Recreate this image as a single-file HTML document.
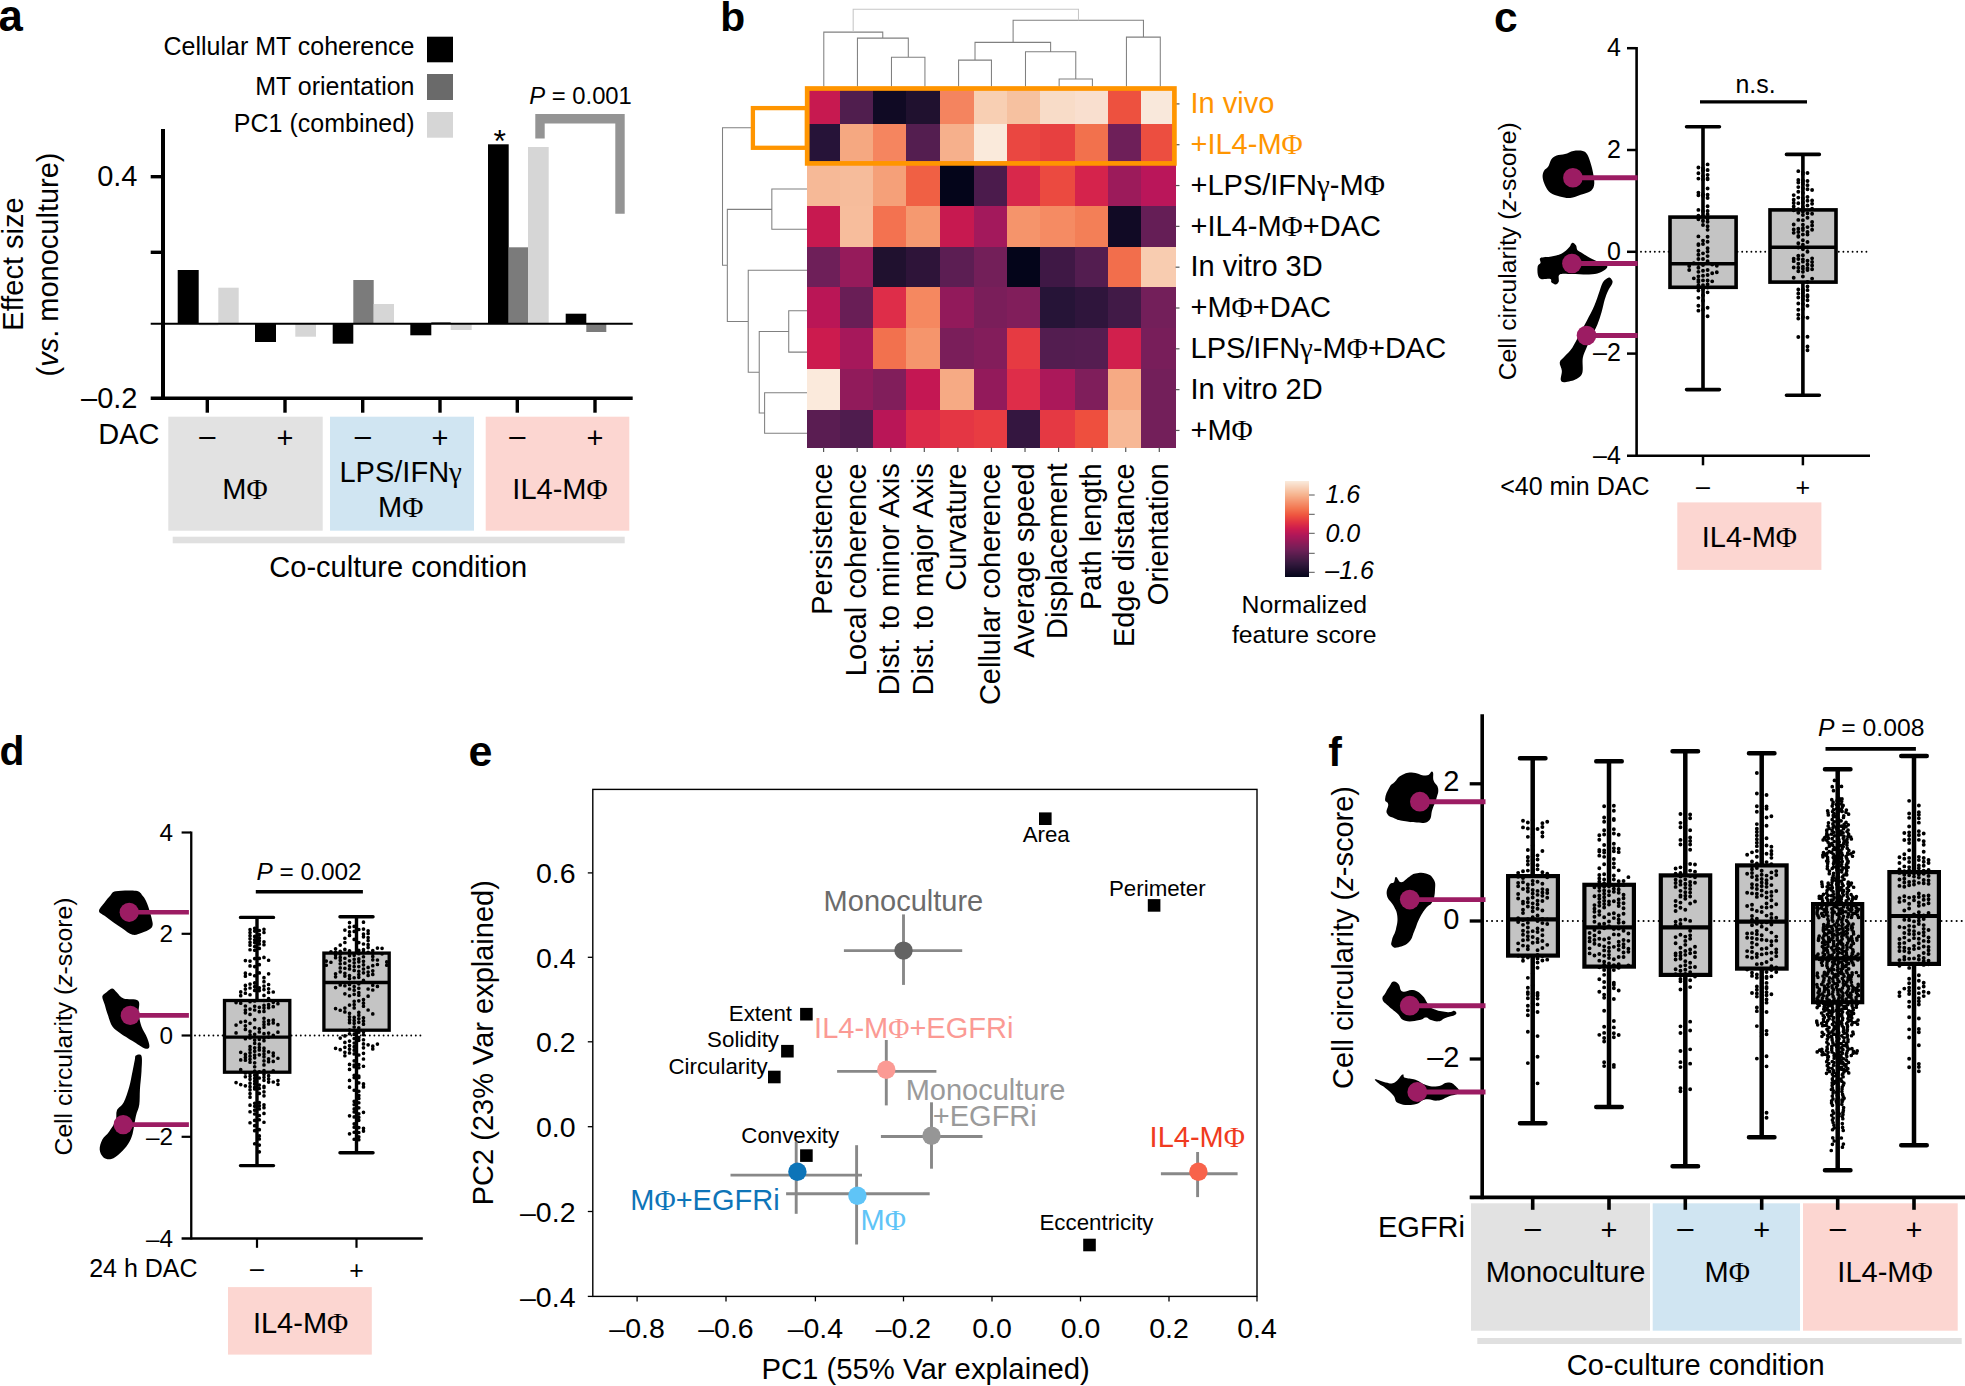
<!DOCTYPE html>
<html lang="en"><head><meta charset="utf-8"><title>Figure</title>
<style>html,body{margin:0;padding:0;background:#fff;overflow:hidden}svg{display:block}text{font-family:'Liberation Sans', sans-serif}.sy{font-family:'Liberation Serif', serif}</style></head><body>
<svg width="1965" height="1386" viewBox="0 0 1965 1386">
<rect width="1965" height="1386" fill="#fff"/>
<g font-weight="bold">
<text x="-1.5" y="31" font-size="43.7">a</text>
<text x="720.2" y="31" font-size="40.8">b</text>
<text x="1494" y="31.9" font-size="42.5">c</text>
<text x="-0.5" y="765" font-size="40.8">d</text>
<text x="468.5" y="766" font-size="43">e</text>
<text x="1328.2" y="765.6" font-size="40.8">f</text>
</g>
<g id="pa">
<text x="414.5" y="55" font-size="25" text-anchor="end">Cellular MT coherence</text>
<text x="414.5" y="95" font-size="25" text-anchor="end">MT orientation</text>
<text x="414.5" y="131.5" font-size="25" text-anchor="end">PC1 (combined)</text>
<rect x="427" y="36.7" width="26" height="25.6" fill="#000"/>
<rect x="427" y="74" width="26" height="26" fill="#6a6a6a"/>
<rect x="427" y="112" width="26" height="25.7" fill="#d6d6d6"/>
<rect x="177.7" y="270" width="21" height="53.7" fill="#000"/>
<rect x="218.3" y="287.7" width="20.4" height="36" fill="#d6d6d6"/>
<rect x="199" y="323.7" width="19.3" height="1.9" fill="#ececec"/>
<rect x="255" y="323.7" width="21" height="18.3" fill="#000"/>
<rect x="295.3" y="323.7" width="20.7" height="13" fill="#d6d6d6"/>
<rect x="332.7" y="323.7" width="20.6" height="20" fill="#000"/>
<rect x="353.3" y="280" width="20.4" height="43.7" fill="#7b7b7b"/>
<rect x="373.7" y="304" width="20.3" height="19.7" fill="#d6d6d6"/>
<rect x="410.3" y="323.7" width="21" height="11.6" fill="#000"/>
<rect x="431.3" y="322" width="19.4" height="1.7" fill="#7b7b7b"/>
<rect x="450.7" y="323.7" width="21" height="6.3" fill="#d6d6d6"/>
<rect x="488" y="144.3" width="20.7" height="179.4" fill="#000"/>
<rect x="508.7" y="247.3" width="19.3" height="76.4" fill="#7b7b7b"/>
<rect x="528" y="147" width="20.7" height="176.7" fill="#d6d6d6"/>
<rect x="565.7" y="313.7" width="20.6" height="10" fill="#000"/>
<rect x="586.3" y="323.7" width="20" height="8.3" fill="#7b7b7b"/>
<line x1="150.7" y1="323.7" x2="632.7" y2="323.7" stroke="#000" stroke-width="2"/>
<line x1="163" y1="129" x2="163" y2="400" stroke="#000" stroke-width="4"/>
<line x1="150.7" y1="398.3" x2="632.7" y2="398.3" stroke="#000" stroke-width="3.6"/>
<line x1="150.7" y1="176.7" x2="163" y2="176.7" stroke="#000" stroke-width="3.4"/>
<line x1="150.7" y1="252.3" x2="163" y2="252.3" stroke="#000" stroke-width="3.4"/>
<line x1="207.3" y1="398.3" x2="207.3" y2="412.7" stroke="#000" stroke-width="3.4"/>
<line x1="285" y1="398.3" x2="285" y2="412.7" stroke="#000" stroke-width="3.4"/>
<line x1="362.7" y1="398.3" x2="362.7" y2="412.7" stroke="#000" stroke-width="3.4"/>
<line x1="440" y1="398.3" x2="440" y2="412.7" stroke="#000" stroke-width="3.4"/>
<line x1="517.3" y1="398.3" x2="517.3" y2="412.7" stroke="#000" stroke-width="3.4"/>
<line x1="595" y1="398.3" x2="595" y2="412.7" stroke="#000" stroke-width="3.4"/>
<text x="137.5" y="185.5" font-size="29" text-anchor="end">0.4</text>
<text x="137.5" y="407.5" font-size="29" text-anchor="end">–0.2</text>
<text font-size="29" text-anchor="middle" transform="translate(22.5 264) rotate(-90)">Effect size</text>
<text font-size="29" text-anchor="middle" transform="translate(58 264.5) rotate(-90)">(<tspan font-style="italic">vs</tspan>. monoculture)</text>
<text x="499.8" y="152" font-size="32" text-anchor="middle">*</text>
<text x="529.3" y="104" font-size="23.8"><tspan font-style="italic">P</tspan> = 0.001</text>
<path d="M540 138.6V118.7H620V213.8" fill="none" stroke="#949494" stroke-width="9.4"/>
<rect x="168.3" y="416.7" width="154.4" height="114" fill="#e2e2e2"/>
<rect x="330" y="416.7" width="144" height="114" fill="#d0e5f2"/>
<rect x="485.7" y="416.7" width="143.6" height="114" fill="#fcd6d1"/>
<rect x="172.7" y="536.7" width="452" height="6.6" fill="#e0e0e0"/>
<text x="159.5" y="444.3" font-size="29" text-anchor="end">DAC</text>
<text x="207.3" y="445.5" font-size="29" text-anchor="middle">–</text>
<text x="285" y="447.5" font-size="29" text-anchor="middle">+</text>
<text x="362.7" y="445.5" font-size="29" text-anchor="middle">–</text>
<text x="440" y="447.5" font-size="29" text-anchor="middle">+</text>
<text x="517.3" y="445.5" font-size="29" text-anchor="middle">–</text>
<text x="595" y="447.5" font-size="29" text-anchor="middle">+</text>
<text x="245" y="499.3" font-size="29" text-anchor="middle">M<tspan class="sy">Φ</tspan></text>
<text x="400.7" y="481.7" font-size="29" text-anchor="middle">LPS/IFN<tspan class="sy">γ</tspan></text>
<text x="400.7" y="516.7" font-size="29" text-anchor="middle">M<tspan class="sy">Φ</tspan></text>
<text x="560" y="499.3" font-size="29" text-anchor="middle">IL4-M<tspan class="sy">Φ</tspan></text>
<text x="398.3" y="577.3" font-size="29" text-anchor="middle">Co-culture condition</text>
</g>
<g id="pb">
<g shape-rendering="crispEdges">
<rect x="807" y="86.5" width="32.9" height="37.6" fill="#c71950"/>
<rect x="839.6" y="86.5" width="33.8" height="37.6" fill="#501e4e"/>
<rect x="873.1" y="86.5" width="33.4" height="37.6" fill="#100a24"/>
<rect x="906.2" y="86.5" width="34.5" height="37.6" fill="#20112f"/>
<rect x="940.4" y="86.5" width="33.9" height="37.6" fill="#f4845f"/>
<rect x="974" y="86.5" width="33.4" height="37.6" fill="#f8cfb3"/>
<rect x="1007.1" y="86.5" width="33.4" height="37.6" fill="#f6c1a0"/>
<rect x="1040.2" y="86.5" width="34.7" height="37.6" fill="#f8dcc8"/>
<rect x="1074.6" y="86.5" width="33.6" height="37.6" fill="#f9dfcf"/>
<rect x="1107.9" y="86.5" width="33.7" height="37.6" fill="#ed513f"/>
<rect x="1141.3" y="86.5" width="34.6" height="37.6" fill="#f9e8db"/>
<rect x="807" y="123.8" width="32.9" height="41.7" fill="#261338"/>
<rect x="839.6" y="123.8" width="33.8" height="41.7" fill="#f5a881"/>
<rect x="873.1" y="123.8" width="33.4" height="41.7" fill="#f5855f"/>
<rect x="906.2" y="123.8" width="34.5" height="41.7" fill="#541e50"/>
<rect x="940.4" y="123.8" width="33.9" height="41.7" fill="#f6b08c"/>
<rect x="974" y="123.8" width="33.4" height="41.7" fill="#faeadb"/>
<rect x="1007.1" y="123.8" width="33.4" height="41.7" fill="#ea4741"/>
<rect x="1040.2" y="123.8" width="34.7" height="41.7" fill="#e74040"/>
<rect x="1074.6" y="123.8" width="33.6" height="41.7" fill="#f2714d"/>
<rect x="1107.9" y="123.8" width="33.7" height="41.7" fill="#6e1f59"/>
<rect x="1141.3" y="123.8" width="34.6" height="41.7" fill="#ec4e40"/>
<rect x="807" y="165.2" width="32.9" height="40.9" fill="#f6b997"/>
<rect x="839.6" y="165.2" width="33.8" height="40.9" fill="#f6bc9b"/>
<rect x="873.1" y="165.2" width="33.4" height="40.9" fill="#f5a079"/>
<rect x="906.2" y="165.2" width="34.5" height="40.9" fill="#f06044"/>
<rect x="940.4" y="165.2" width="33.9" height="40.9" fill="#04051a"/>
<rect x="974" y="165.2" width="33.4" height="40.9" fill="#4b1b4c"/>
<rect x="1007.1" y="165.2" width="33.4" height="40.9" fill="#d8284b"/>
<rect x="1040.2" y="165.2" width="34.7" height="40.9" fill="#eb4a40"/>
<rect x="1074.6" y="165.2" width="33.6" height="40.9" fill="#d5234c"/>
<rect x="1107.9" y="165.2" width="33.7" height="40.9" fill="#9c1b5b"/>
<rect x="1141.3" y="165.2" width="34.6" height="40.9" fill="#ba165a"/>
<rect x="807" y="205.8" width="32.9" height="41" fill="#c71950"/>
<rect x="839.6" y="205.8" width="33.8" height="41" fill="#f7bd9c"/>
<rect x="873.1" y="205.8" width="33.4" height="41" fill="#f37250"/>
<rect x="906.2" y="205.8" width="34.5" height="41" fill="#f59970"/>
<rect x="940.4" y="205.8" width="33.9" height="41" fill="#c71950"/>
<rect x="974" y="205.8" width="33.4" height="41" fill="#a3195c"/>
<rect x="1007.1" y="205.8" width="33.4" height="41" fill="#f5946b"/>
<rect x="1040.2" y="205.8" width="34.7" height="41" fill="#f58b63"/>
<rect x="1074.6" y="205.8" width="33.6" height="41" fill="#f37f57"/>
<rect x="1107.9" y="205.8" width="33.7" height="41" fill="#110a25"/>
<rect x="1141.3" y="205.8" width="34.6" height="41" fill="#651e56"/>
<rect x="807" y="246.5" width="32.9" height="41" fill="#6e1f59"/>
<rect x="839.6" y="246.5" width="33.8" height="41" fill="#961b5b"/>
<rect x="873.1" y="246.5" width="33.4" height="41" fill="#20112f"/>
<rect x="906.2" y="246.5" width="34.5" height="41" fill="#2e1439"/>
<rect x="940.4" y="246.5" width="33.9" height="41" fill="#5c1e53"/>
<rect x="974" y="246.5" width="33.4" height="41" fill="#731f59"/>
<rect x="1007.1" y="246.5" width="33.4" height="41" fill="#04051a"/>
<rect x="1040.2" y="246.5" width="34.7" height="41" fill="#3f1845"/>
<rect x="1074.6" y="246.5" width="33.6" height="41" fill="#531d50"/>
<rect x="1107.9" y="246.5" width="33.7" height="41" fill="#f26e4c"/>
<rect x="1141.3" y="246.5" width="34.6" height="41" fill="#f8ccb0"/>
<rect x="807" y="287.2" width="32.9" height="41.2" fill="#ba1656"/>
<rect x="839.6" y="287.2" width="33.8" height="41.2" fill="#691e56"/>
<rect x="873.1" y="287.2" width="33.4" height="41.2" fill="#de2d49"/>
<rect x="906.2" y="287.2" width="34.5" height="41.2" fill="#f58860"/>
<rect x="940.4" y="287.2" width="33.9" height="41.2" fill="#921a5b"/>
<rect x="974" y="287.2" width="33.4" height="41.2" fill="#7a1e5a"/>
<rect x="1007.1" y="287.2" width="33.4" height="41.2" fill="#811e5b"/>
<rect x="1040.2" y="287.2" width="34.7" height="41.2" fill="#261437"/>
<rect x="1074.6" y="287.2" width="33.6" height="41.2" fill="#2f153c"/>
<rect x="1107.9" y="287.2" width="33.7" height="41.2" fill="#411a47"/>
<rect x="1141.3" y="287.2" width="34.6" height="41.2" fill="#731f5a"/>
<rect x="807" y="328.1" width="32.9" height="41.2" fill="#cc1b4e"/>
<rect x="839.6" y="328.1" width="33.8" height="41.2" fill="#a6185b"/>
<rect x="873.1" y="328.1" width="33.4" height="41.2" fill="#f2714e"/>
<rect x="906.2" y="328.1" width="34.5" height="41.2" fill="#f5956c"/>
<rect x="940.4" y="328.1" width="33.9" height="41.2" fill="#7a1e5a"/>
<rect x="974" y="328.1" width="33.4" height="41.2" fill="#831d5b"/>
<rect x="1007.1" y="328.1" width="33.4" height="41.2" fill="#e63a42"/>
<rect x="1040.2" y="328.1" width="34.7" height="41.2" fill="#531d50"/>
<rect x="1074.6" y="328.1" width="33.6" height="41.2" fill="#551d51"/>
<rect x="1107.9" y="328.1" width="33.7" height="41.2" fill="#d1204d"/>
<rect x="1141.3" y="328.1" width="34.6" height="41.2" fill="#781e5a"/>
<rect x="807" y="369" width="32.9" height="41.3" fill="#fbeadc"/>
<rect x="839.6" y="369" width="33.8" height="41.3" fill="#911b5b"/>
<rect x="873.1" y="369" width="33.4" height="41.3" fill="#811e5b"/>
<rect x="906.2" y="369" width="34.5" height="41.3" fill="#c41753"/>
<rect x="940.4" y="369" width="33.9" height="41.3" fill="#f6aa84"/>
<rect x="974" y="369" width="33.4" height="41.3" fill="#931a5b"/>
<rect x="1007.1" y="369" width="33.4" height="41.3" fill="#de2d49"/>
<rect x="1040.2" y="369" width="34.7" height="41.3" fill="#ab185a"/>
<rect x="1074.6" y="369" width="33.6" height="41.3" fill="#7f1e5b"/>
<rect x="1107.9" y="369" width="33.7" height="41.3" fill="#f6aa84"/>
<rect x="1141.3" y="369" width="34.6" height="41.3" fill="#731f5a"/>
<rect x="807" y="410" width="32.9" height="37.8" fill="#5a1d52"/>
<rect x="839.6" y="410" width="33.8" height="37.8" fill="#4f1c4e"/>
<rect x="873.1" y="410" width="33.4" height="37.8" fill="#b91657"/>
<rect x="906.2" y="410" width="34.5" height="37.8" fill="#dc2a49"/>
<rect x="940.4" y="410" width="33.9" height="37.8" fill="#e43644"/>
<rect x="974" y="410" width="33.4" height="37.8" fill="#e83c42"/>
<rect x="1007.1" y="410" width="33.4" height="37.8" fill="#341640"/>
<rect x="1040.2" y="410" width="34.7" height="37.8" fill="#e53943"/>
<rect x="1074.6" y="410" width="33.6" height="37.8" fill="#ee4f3e"/>
<rect x="1107.9" y="410" width="33.7" height="37.8" fill="#f7b896"/>
<rect x="1141.3" y="410" width="34.6" height="37.8" fill="#731f5a"/>
</g>
<line x1="1175.6" y1="103.9" x2="1179.5" y2="103.9" stroke="#555" stroke-width="1.2"/>
<line x1="1175.6" y1="144.72" x2="1179.5" y2="144.72" stroke="#555" stroke-width="1.2"/>
<line x1="1175.6" y1="185.54" x2="1179.5" y2="185.54" stroke="#555" stroke-width="1.2"/>
<line x1="1175.6" y1="226.36" x2="1179.5" y2="226.36" stroke="#555" stroke-width="1.2"/>
<line x1="1175.6" y1="267.18" x2="1179.5" y2="267.18" stroke="#555" stroke-width="1.2"/>
<line x1="1175.6" y1="308" x2="1179.5" y2="308" stroke="#555" stroke-width="1.2"/>
<line x1="1175.6" y1="348.82" x2="1179.5" y2="348.82" stroke="#555" stroke-width="1.2"/>
<line x1="1175.6" y1="389.64" x2="1179.5" y2="389.64" stroke="#555" stroke-width="1.2"/>
<line x1="1175.6" y1="430.46" x2="1179.5" y2="430.46" stroke="#555" stroke-width="1.2"/>
<line x1="823.6" y1="447.5" x2="823.6" y2="452" stroke="#555" stroke-width="1.2"/>
<line x1="857.17" y1="447.5" x2="857.17" y2="452" stroke="#555" stroke-width="1.2"/>
<line x1="890.74" y1="447.5" x2="890.74" y2="452" stroke="#555" stroke-width="1.2"/>
<line x1="924.31" y1="447.5" x2="924.31" y2="452" stroke="#555" stroke-width="1.2"/>
<line x1="957.88" y1="447.5" x2="957.88" y2="452" stroke="#555" stroke-width="1.2"/>
<line x1="991.45" y1="447.5" x2="991.45" y2="452" stroke="#555" stroke-width="1.2"/>
<line x1="1025.02" y1="447.5" x2="1025.02" y2="452" stroke="#555" stroke-width="1.2"/>
<line x1="1058.59" y1="447.5" x2="1058.59" y2="452" stroke="#555" stroke-width="1.2"/>
<line x1="1092.16" y1="447.5" x2="1092.16" y2="452" stroke="#555" stroke-width="1.2"/>
<line x1="1125.73" y1="447.5" x2="1125.73" y2="452" stroke="#555" stroke-width="1.2"/>
<line x1="1159.3" y1="447.5" x2="1159.3" y2="452" stroke="#555" stroke-width="1.2"/>
<path d="M891.47 86.5V57.24H924.93V86.5M857.44 86.5V38.1H908.3V57.24M823.79 86.5V32.1H882.77V38.1M958.58 86.5V60.14H991.45V86.5M1059.14 86.5V79.09H1092.4V86.5M1025.49 86.5V51.83H1075.77V79.09M975.01 60.14V42.35H1050.63V51.83M1126.44 86.5V37.13H1160.28V86.5M1013.11 42.35V20.31H1143.45V37.13" fill="none" stroke="#808080" stroke-width="1.05"/>
<path d="M853.18 32.1V9.28H1078.48V20.31" fill="none" stroke="#c6c6c6" stroke-width="1.05"/>
<path d="M807 188.96H771.84V229.22H807M807 310.81H788.73V352.14H807M807 392.67H764.6V433.19H807M788.73 331.48H759.24V413.06H764.6M807 270.28H748.24V372.27H759.24M771.84 209.36H727.33V321.55H748.24M751 127.77H722.51V265.19H727.33" fill="none" stroke="#808080" stroke-width="1.05"/>
<rect x="752.9" y="108.1" width="54" height="39.7" fill="none" stroke="#ff9500" stroke-width="4.3"/>
<rect x="807.2" y="88.5" width="367.2" height="74.9" fill="none" stroke="#ff9500" stroke-width="4.7"/>
<text x="1190.5" y="113.1" font-size="29" fill="#ff9500">In vivo</text>
<text x="1190.5" y="153.92" font-size="29" fill="#ff9500">+IL4-M<tspan class="sy">Φ</tspan></text>
<text x="1190.5" y="194.74" font-size="29">+LPS/IFN<tspan class="sy">γ</tspan>-M<tspan class="sy">Φ</tspan></text>
<text x="1190.5" y="235.56" font-size="29">+IL4-M<tspan class="sy">Φ</tspan>+DAC</text>
<text x="1190.5" y="276.38" font-size="29">In vitro 3D</text>
<text x="1190.5" y="317.2" font-size="29">+M<tspan class="sy">Φ</tspan>+DAC</text>
<text x="1190.5" y="358.02" font-size="29">LPS/IFN<tspan class="sy">γ</tspan>-M<tspan class="sy">Φ</tspan>+DAC</text>
<text x="1190.5" y="398.84" font-size="29">In vitro 2D</text>
<text x="1190.5" y="439.66" font-size="29">+M<tspan class="sy">Φ</tspan></text>
<text font-size="29" text-anchor="end" transform="translate(832.2 463.3) rotate(-90)">Persistence</text>
<text font-size="29" text-anchor="end" transform="translate(865.77 463.3) rotate(-90)">Local coherence</text>
<text font-size="29" text-anchor="end" transform="translate(899.34 463.3) rotate(-90)">Dist. to minor Axis</text>
<text font-size="29" text-anchor="end" transform="translate(932.91 463.3) rotate(-90)">Dist. to major Axis</text>
<text font-size="29" text-anchor="end" transform="translate(966.48 463.3) rotate(-90)">Curvature</text>
<text font-size="29" text-anchor="end" transform="translate(1000.05 463.3) rotate(-90)">Cellular coherence</text>
<text font-size="29" text-anchor="end" transform="translate(1033.62 463.3) rotate(-90)">Average speed</text>
<text font-size="29" text-anchor="end" transform="translate(1067.19 463.3) rotate(-90)">Displacement</text>
<text font-size="29" text-anchor="end" transform="translate(1100.76 463.3) rotate(-90)">Path length</text>
<text font-size="29" text-anchor="end" transform="translate(1134.33 463.3) rotate(-90)">Edge distance</text>
<text font-size="29" text-anchor="end" transform="translate(1167.9 463.3) rotate(-90)">Orientation</text>
<g shape-rendering="crispEdges">
<rect x="1284.7" y="481" width="24.3" height="1.4" fill="#fae9da"/>
<rect x="1284.7" y="482" width="24.3" height="1.4" fill="#fae5d4"/>
<rect x="1284.7" y="482.99" width="24.3" height="1.4" fill="#f9e1cf"/>
<rect x="1284.7" y="483.99" width="24.3" height="1.4" fill="#f9ddc9"/>
<rect x="1284.7" y="484.99" width="24.3" height="1.4" fill="#f9d9c3"/>
<rect x="1284.7" y="485.98" width="24.3" height="1.4" fill="#f8d5be"/>
<rect x="1284.7" y="486.98" width="24.3" height="1.4" fill="#f8d1b8"/>
<rect x="1284.7" y="487.98" width="24.3" height="1.4" fill="#f8cdb2"/>
<rect x="1284.7" y="488.98" width="24.3" height="1.4" fill="#f8c9ad"/>
<rect x="1284.7" y="489.97" width="24.3" height="1.4" fill="#f7c5a7"/>
<rect x="1284.7" y="490.97" width="24.3" height="1.4" fill="#f7c1a1"/>
<rect x="1284.7" y="491.97" width="24.3" height="1.4" fill="#f7bd9c"/>
<rect x="1284.7" y="492.96" width="24.3" height="1.4" fill="#f6b996"/>
<rect x="1284.7" y="493.96" width="24.3" height="1.4" fill="#f6b590"/>
<rect x="1284.7" y="494.96" width="24.3" height="1.4" fill="#f6b18c"/>
<rect x="1284.7" y="495.95" width="24.3" height="1.4" fill="#f6ac87"/>
<rect x="1284.7" y="496.95" width="24.3" height="1.4" fill="#f5a782"/>
<rect x="1284.7" y="497.95" width="24.3" height="1.4" fill="#f5a37e"/>
<rect x="1284.7" y="498.94" width="24.3" height="1.4" fill="#f59e79"/>
<rect x="1284.7" y="499.94" width="24.3" height="1.4" fill="#f59a75"/>
<rect x="1284.7" y="500.94" width="24.3" height="1.4" fill="#f59570"/>
<rect x="1284.7" y="501.93" width="24.3" height="1.4" fill="#f4916c"/>
<rect x="1284.7" y="502.93" width="24.3" height="1.4" fill="#f48c67"/>
<rect x="1284.7" y="503.93" width="24.3" height="1.4" fill="#f48863"/>
<rect x="1284.7" y="504.93" width="24.3" height="1.4" fill="#f4835e"/>
<rect x="1284.7" y="505.92" width="24.3" height="1.4" fill="#f37f5a"/>
<rect x="1284.7" y="506.92" width="24.3" height="1.4" fill="#f37a55"/>
<rect x="1284.7" y="507.92" width="24.3" height="1.4" fill="#f37651"/>
<rect x="1284.7" y="508.91" width="24.3" height="1.4" fill="#f2714e"/>
<rect x="1284.7" y="509.91" width="24.3" height="1.4" fill="#f26c4c"/>
<rect x="1284.7" y="510.91" width="24.3" height="1.4" fill="#f16749"/>
<rect x="1284.7" y="511.9" width="24.3" height="1.4" fill="#f06246"/>
<rect x="1284.7" y="512.9" width="24.3" height="1.4" fill="#ef5d44"/>
<rect x="1284.7" y="513.9" width="24.3" height="1.4" fill="#ef5841"/>
<rect x="1284.7" y="514.89" width="24.3" height="1.4" fill="#ee533f"/>
<rect x="1284.7" y="515.89" width="24.3" height="1.4" fill="#ec4e40"/>
<rect x="1284.7" y="516.89" width="24.3" height="1.4" fill="#ea4940"/>
<rect x="1284.7" y="517.88" width="24.3" height="1.4" fill="#e84540"/>
<rect x="1284.7" y="518.88" width="24.3" height="1.4" fill="#e64041"/>
<rect x="1284.7" y="519.88" width="24.3" height="1.4" fill="#e43b41"/>
<rect x="1284.7" y="520.88" width="24.3" height="1.4" fill="#e23642"/>
<rect x="1284.7" y="521.87" width="24.3" height="1.4" fill="#e03243"/>
<rect x="1284.7" y="522.87" width="24.3" height="1.4" fill="#dd2e45"/>
<rect x="1284.7" y="523.87" width="24.3" height="1.4" fill="#da2b46"/>
<rect x="1284.7" y="524.86" width="24.3" height="1.4" fill="#d62748"/>
<rect x="1284.7" y="525.86" width="24.3" height="1.4" fill="#d3244a"/>
<rect x="1284.7" y="526.86" width="24.3" height="1.4" fill="#d0204c"/>
<rect x="1284.7" y="527.85" width="24.3" height="1.4" fill="#cd1d4e"/>
<rect x="1284.7" y="528.85" width="24.3" height="1.4" fill="#c91b50"/>
<rect x="1284.7" y="529.85" width="24.3" height="1.4" fill="#c41a51"/>
<rect x="1284.7" y="530.84" width="24.3" height="1.4" fill="#c01a53"/>
<rect x="1284.7" y="531.84" width="24.3" height="1.4" fill="#bc1954"/>
<rect x="1284.7" y="532.84" width="24.3" height="1.4" fill="#b71856"/>
<rect x="1284.7" y="533.83" width="24.3" height="1.4" fill="#b31857"/>
<rect x="1284.7" y="534.83" width="24.3" height="1.4" fill="#ae1759"/>
<rect x="1284.7" y="535.83" width="24.3" height="1.4" fill="#aa1759"/>
<rect x="1284.7" y="536.83" width="24.3" height="1.4" fill="#a61859"/>
<rect x="1284.7" y="537.82" width="24.3" height="1.4" fill="#a11959"/>
<rect x="1284.7" y="538.82" width="24.3" height="1.4" fill="#9d1958"/>
<rect x="1284.7" y="539.82" width="24.3" height="1.4" fill="#981a58"/>
<rect x="1284.7" y="540.81" width="24.3" height="1.4" fill="#941a58"/>
<rect x="1284.7" y="541.81" width="24.3" height="1.4" fill="#8f1b58"/>
<rect x="1284.7" y="542.81" width="24.3" height="1.4" fill="#8b1b58"/>
<rect x="1284.7" y="543.8" width="24.3" height="1.4" fill="#861c58"/>
<rect x="1284.7" y="544.8" width="24.3" height="1.4" fill="#821d58"/>
<rect x="1284.7" y="545.8" width="24.3" height="1.4" fill="#7e1d57"/>
<rect x="1284.7" y="546.79" width="24.3" height="1.4" fill="#791e57"/>
<rect x="1284.7" y="547.79" width="24.3" height="1.4" fill="#751e57"/>
<rect x="1284.7" y="548.79" width="24.3" height="1.4" fill="#701f57"/>
<rect x="1284.7" y="549.78" width="24.3" height="1.4" fill="#6c1f55"/>
<rect x="1284.7" y="550.78" width="24.3" height="1.4" fill="#681e53"/>
<rect x="1284.7" y="551.78" width="24.3" height="1.4" fill="#631e52"/>
<rect x="1284.7" y="552.78" width="24.3" height="1.4" fill="#5f1d50"/>
<rect x="1284.7" y="553.77" width="24.3" height="1.4" fill="#5b1d4e"/>
<rect x="1284.7" y="554.77" width="24.3" height="1.4" fill="#561c4c"/>
<rect x="1284.7" y="555.77" width="24.3" height="1.4" fill="#521c4a"/>
<rect x="1284.7" y="556.76" width="24.3" height="1.4" fill="#4e1c49"/>
<rect x="1284.7" y="557.76" width="24.3" height="1.4" fill="#4a1b47"/>
<rect x="1284.7" y="558.76" width="24.3" height="1.4" fill="#451b45"/>
<rect x="1284.7" y="559.75" width="24.3" height="1.4" fill="#411a43"/>
<rect x="1284.7" y="560.75" width="24.3" height="1.4" fill="#3d1a41"/>
<rect x="1284.7" y="561.75" width="24.3" height="1.4" fill="#38193f"/>
<rect x="1284.7" y="562.74" width="24.3" height="1.4" fill="#34193d"/>
<rect x="1284.7" y="563.74" width="24.3" height="1.4" fill="#31173b"/>
<rect x="1284.7" y="564.74" width="24.3" height="1.4" fill="#2d1638"/>
<rect x="1284.7" y="565.73" width="24.3" height="1.4" fill="#291436"/>
<rect x="1284.7" y="566.73" width="24.3" height="1.4" fill="#261333"/>
<rect x="1284.7" y="567.73" width="24.3" height="1.4" fill="#221130"/>
<rect x="1284.7" y="568.73" width="24.3" height="1.4" fill="#1e102e"/>
<rect x="1284.7" y="569.72" width="24.3" height="1.4" fill="#1b0e2b"/>
<rect x="1284.7" y="570.72" width="24.3" height="1.4" fill="#170d28"/>
<rect x="1284.7" y="571.72" width="24.3" height="1.4" fill="#130c26"/>
<rect x="1284.7" y="572.71" width="24.3" height="1.4" fill="#100a23"/>
<rect x="1284.7" y="573.71" width="24.3" height="1.4" fill="#0c0921"/>
<rect x="1284.7" y="574.71" width="24.3" height="1.4" fill="#08071e"/>
<rect x="1284.7" y="575.7" width="24.3" height="1.4" fill="#05061b"/>
</g>
<line x1="1309" y1="495" x2="1314.7" y2="495" stroke="#555" stroke-width="1"/>
<line x1="1309" y1="514.3" x2="1314.7" y2="514.3" stroke="#555" stroke-width="1"/>
<line x1="1309" y1="533.3" x2="1314.7" y2="533.3" stroke="#555" stroke-width="1"/>
<line x1="1309" y1="553.3" x2="1314.7" y2="553.3" stroke="#555" stroke-width="1"/>
<line x1="1309" y1="572.3" x2="1314.7" y2="572.3" stroke="#555" stroke-width="1"/>
<text x="1325.5" y="503" font-size="25" font-style="italic">1.6</text>
<text x="1325.5" y="541.5" font-size="25" font-style="italic">0.0</text>
<text x="1325.3" y="579" font-size="25" font-style="italic">–1.6</text>
<text x="1304.3" y="612.9" font-size="24.8" text-anchor="middle">Normalized</text>
<text x="1304.3" y="642.9" font-size="24.8" text-anchor="middle">feature score</text>
</g>
<g id="pc">
<path d="M1573.36 150.93C1576.33 150.4 1580.51 150.4 1582.78 150.93C1585.05 151.45 1585.74 152.32 1586.97 154.07C1588.19 155.81 1589.16 158.6 1590.1 161.39C1591.05 164.18 1591.92 167.14 1592.62 170.81C1593.31 174.47 1594.53 180.05 1594.29 183.36C1594.05 186.68 1593.42 188.77 1591.15 190.69C1588.88 192.61 1584.18 193.65 1580.69 194.87C1577.2 196.09 1573.71 197.73 1570.22 198.01C1566.74 198.29 1563.07 197.42 1559.76 196.55C1556.45 195.67 1552.79 194.63 1550.34 192.78C1547.9 190.93 1546.4 188.07 1545.11 185.46C1543.82 182.84 1542.78 179.53 1542.6 177.08C1542.43 174.64 1543.12 172.55 1544.07 170.81C1545.01 169.06 1547.03 168.54 1548.25 166.62C1549.47 164.7 1549.99 161.15 1551.39 159.3C1552.79 157.45 1554.35 156.4 1556.62 155.53C1558.89 154.66 1562.2 154.83 1564.99 154.07C1567.78 153.3 1570.4 151.45 1573.36 150.93Z" fill="#000"/>
<path d="M1573.36 243C1574.17 243.32 1575.39 244.29 1576.08 245.52C1576.78 246.74 1576.43 249 1577.55 250.33C1578.66 251.65 1580.69 252.18 1582.78 253.47C1584.87 254.76 1587.49 256.68 1590.1 258.07C1592.72 259.47 1595.86 260.86 1598.47 261.84C1601.09 262.81 1604.4 262.88 1605.8 263.93C1607.19 264.98 1607.89 266.65 1606.85 268.12C1605.8 269.58 1602.49 271.67 1599.52 272.72C1596.56 273.77 1593.59 274.18 1589.06 274.39C1584.52 274.6 1577.2 273.98 1572.32 273.98C1567.43 273.98 1562.03 273.1 1559.76 274.39C1557.49 275.68 1559.41 280.04 1558.71 281.72C1558.02 283.39 1556.8 284.33 1555.58 284.44C1554.35 284.54 1552.26 283.25 1551.39 282.35C1550.52 281.44 1552.09 279.56 1550.34 279C1548.6 278.44 1543.02 279.76 1540.93 279C1538.83 278.23 1538.31 276.56 1537.79 274.39C1537.26 272.23 1537.33 267.94 1537.79 266.02C1538.24 264.1 1540.05 264.21 1540.51 262.88C1540.96 261.56 1538.69 259.12 1540.51 258.07C1542.32 257.02 1547.83 257.37 1551.39 256.61C1554.95 255.84 1558.89 255.04 1561.85 253.47C1564.82 251.9 1567.61 248.83 1569.18 247.19C1570.75 245.55 1570.57 244.33 1571.27 243.63C1571.97 242.93 1572.56 242.69 1573.36 243Z" fill="#000"/>
<path d="M1609.98 277.74C1610.93 278.16 1612.22 279.9 1612.5 281.09C1612.77 282.28 1612.43 283.18 1611.66 284.86C1610.89 286.53 1609.04 288.69 1607.89 291.14C1606.74 293.58 1605.8 296.02 1604.75 299.51C1603.71 302.99 1602.83 307.88 1601.61 312.06C1600.39 316.25 1599.17 320.43 1597.43 324.62C1595.68 328.8 1592.96 333.34 1591.15 337.17C1589.34 341.01 1587.94 344.15 1586.55 347.64C1585.15 351.12 1583.48 353.91 1582.78 358.1C1582.08 362.29 1583.41 369.26 1582.36 372.75C1581.32 376.24 1579.4 377.46 1576.5 379.03C1573.61 380.6 1567.61 381.99 1564.99 382.17C1562.38 382.34 1561.33 381.99 1560.81 380.07C1560.28 378.15 1562.03 373.62 1561.85 370.66C1561.68 367.69 1559.24 364.73 1559.76 362.29C1560.28 359.84 1562.9 358.45 1564.99 356.01C1567.08 353.57 1569.88 351.3 1572.32 347.64C1574.76 343.97 1577.2 338.57 1579.64 334.03C1582.08 329.5 1584.52 325.14 1586.97 320.43C1589.41 315.72 1592.2 310.67 1594.29 305.78C1596.38 300.9 1598.13 294.97 1599.52 291.14C1600.92 287.3 1601.44 284.86 1602.66 282.76C1603.88 280.67 1605.62 279.42 1606.85 278.58C1608.07 277.74 1609.04 277.32 1609.98 277.74Z" fill="#000"/>
<line x1="1641" y1="251.8" x2="1867" y2="251.8" stroke="#000" stroke-width="1.9" stroke-dasharray="0 4.6" stroke-linecap="round"/>
<path d="M1703 126.8V217.1M1703 287.3V389.6M1686.55 126.8H1719.45M1686.55 389.6H1719.45" fill="none" stroke="#000" stroke-width="3.6" stroke-linecap="round"/>
<rect x="1670" y="217.1" width="66.1" height="70.2" fill="#c4c4c4" stroke="#000" stroke-width="3.6"/>
<line x1="1670" y1="263.7" x2="1736.1" y2="263.7" stroke="#000" stroke-width="3.6"/>
<path d="M1707.6 164.4h0M1698.4 167.52h0M1703 168.3h0M1707.6 170h0M1707.6 170.14h0M1703 170.53h0M1698.4 173.31h0M1707.6 174.85h0M1703 176.25h0M1707.6 178.43h0M1698.4 178.59h0M1707.6 179.22h0M1703 179.6h0M1707.6 188.55h0M1698.4 192.61h0M1703 194.13h0M1707.6 194.68h0M1698.4 195.23h0M1703 195.96h0M1707.6 198h0M1707.6 206.32h0M1698.4 209.88h0M1707.6 210.89h0M1703 211.15h0M1707.6 214.32h0M1698.4 215.75h0M1703 216.08h0M1698.4 216.71h0M1707.6 218.52h0M1698.4 219.18h0M1703 220.41h0M1703 221.05h0M1707.6 221.74h0M1703 224.92h0M1707.6 226.23h0M1707.6 229.86h0M1698.4 236.4h0M1707.6 236.67h0M1703 240.61h0M1707.6 241.76h0M1703 243.93h0M1698.4 244.27h0M1698.4 244.98h0M1707.6 248.24h0M1698.4 250.81h0M1707.6 251.58h0M1703 253.37h0M1698.4 254.82h0M1707.6 256.11h0M1698.4 259h0M1703 259.04h0M1707.6 261.31h0M1693.8 263.25h0M1698.4 263.78h0M1712.2 264.42h0M1703 265.05h0M1716.8 265.85h0M1689.2 266.1h0M1698.4 267.7h0M1689.2 269.95h0M1707.6 270.05h0M1703 270.67h0M1698.4 271.85h0M1716.8 272.2h0M1712.2 273.25h0M1707.6 274.97h0M1703 275.75h0M1698.4 276.33h0M1693.8 278.34h0M1698.4 279.95h0M1703 280.41h0M1707.6 280.56h0M1712.2 281.33h0M1698.4 282.06h0M1707.6 284.34h0M1703 285.12h0M1698.4 285.53h0M1698.4 286.77h0M1707.6 287.49h0M1703 289.06h0M1698.4 290.58h0M1707.6 292.33h0M1703 295.16h0M1698.4 297.83h0M1703 300.77h0M1698.4 305.78h0M1707.6 307.76h0M1703 309.77h0M1698.4 310.66h0M1707.6 316.24h0" fill="none" stroke="#000" stroke-width="3.91" stroke-linecap="round"/>
<path d="M1802.9 154.4V209.9M1802.9 282.1V395.3M1786.45 154.4H1819.35M1786.45 395.3H1819.35" fill="none" stroke="#000" stroke-width="3.6" stroke-linecap="round"/>
<rect x="1770" y="209.9" width="66" height="72.2" fill="#c4c4c4" stroke="#000" stroke-width="3.6"/>
<line x1="1770" y1="247.2" x2="1836" y2="247.2" stroke="#000" stroke-width="3.6"/>
<path d="M1798.3 171.15h0M1802.9 172.73h0M1807.5 173.05h0M1802.9 174.09h0M1798.3 179.93h0M1802.9 180.4h0M1807.5 180.96h0M1802.9 181.71h0M1798.3 182.45h0M1802.9 183.79h0M1807.5 185.13h0M1798.3 187.09h0M1802.9 188.21h0M1807.5 189.2h0M1812.1 190.04h0M1798.3 191.72h0M1802.9 193h0M1793.7 195.09h0M1807.5 196.91h0M1798.3 197.6h0M1802.9 198.39h0M1793.7 199.67h0M1812.1 200.39h0M1807.5 200.72h0M1802.9 202.38h0M1793.7 202.97h0M1798.3 203.24h0M1812.1 203.73h0M1807.5 205.46h0M1793.7 206.45h0M1802.9 207.2h0M1812.1 208.71h0M1798.3 209.17h0M1793.7 210.25h0M1802.9 211.64h0M1798.3 212.76h0M1807.5 213.31h0M1812.1 213.8h0M1802.9 215.05h0M1807.5 217.77h0M1798.3 219.9h0M1802.9 220.15h0M1812.1 222.02h0M1793.7 224.43h0M1802.9 224.82h0M1812.1 225.55h0M1807.5 227.08h0M1802.9 228.15h0M1798.3 228.65h0M1793.7 229.49h0M1812.1 229.77h0M1802.9 230.09h0M1807.5 231.95h0M1798.3 232.02h0M1793.7 232.83h0M1802.9 234.49h0M1807.5 234.58h0M1798.3 236.06h0M1798.3 236.71h0M1802.9 240.25h0M1807.5 241.99h0M1798.3 243.23h0M1802.9 244.78h0M1798.3 247.43h0M1807.5 247.65h0M1802.9 249.17h0M1807.5 251.67h0M1802.9 255.24h0M1798.3 255.64h0M1812.1 258.36h0M1793.7 258.69h0M1798.3 259.03h0M1802.9 259.56h0M1807.5 260.77h0M1793.7 261.14h0M1802.9 261.65h0M1812.1 262.01h0M1798.3 263.82h0M1807.5 264.47h0M1812.1 265.38h0M1802.9 266.63h0M1793.7 267.45h0M1798.3 267.73h0M1807.5 268.19h0M1802.9 268.67h0M1812.1 269.21h0M1807.5 270.07h0M1798.3 271.3h0M1802.9 271.76h0M1802.9 276.44h0M1793.7 277.81h0M1812.1 278.62h0M1807.5 281.92h0M1807.5 286.43h0M1802.9 289.19h0M1798.3 289.51h0M1807.5 290.13h0M1802.9 291.08h0M1802.9 292.67h0M1798.3 293.4h0M1807.5 295.14h0M1802.9 295.97h0M1807.5 296.44h0M1807.5 296.61h0M1798.3 297.5h0M1802.9 298.89h0M1807.5 300.28h0M1798.3 303.51h0M1802.9 304.01h0M1807.5 305.68h0M1802.9 308.98h0M1798.3 309.79h0M1798.3 314.67h0M1802.9 317.07h0M1807.5 317.75h0M1798.3 318.59h0M1807.5 336.81h0M1798.3 337.03h0M1807.5 346.44h0M1807.5 350.28h0" fill="none" stroke="#000" stroke-width="3.91" stroke-linecap="round"/>
<line x1="1636.6" y1="46.9" x2="1636.6" y2="457" stroke="#000" stroke-width="2.6"/>
<line x1="1627" y1="455.7" x2="1870" y2="455.7" stroke="#000" stroke-width="2.6"/>
<line x1="1627" y1="48.2" x2="1636.6" y2="48.2" stroke="#000" stroke-width="2.5"/>
<line x1="1627" y1="150" x2="1636.6" y2="150" stroke="#000" stroke-width="2.5"/>
<line x1="1627" y1="251.8" x2="1636.6" y2="251.8" stroke="#000" stroke-width="2.5"/>
<line x1="1627" y1="353.6" x2="1636.6" y2="353.6" stroke="#000" stroke-width="2.5"/>
<line x1="1703" y1="455.7" x2="1703" y2="465.3" stroke="#000" stroke-width="2.5"/>
<line x1="1802.9" y1="455.7" x2="1802.9" y2="465.3" stroke="#000" stroke-width="2.5"/>
<text x="1620.8" y="56" font-size="25" text-anchor="end">4</text>
<text x="1620.8" y="157.8" font-size="25" text-anchor="end">2</text>
<text x="1620.8" y="259.6" font-size="25" text-anchor="end">0</text>
<text x="1620.8" y="361.4" font-size="25" text-anchor="end">–2</text>
<text x="1620.8" y="463.5" font-size="25" text-anchor="end">–4</text>
<text font-size="24.7" text-anchor="middle" transform="translate(1516 251.3) rotate(-90)">Cell circularity (<tspan font-style="italic">z</tspan>-score)</text>
<line x1="1572.9" y1="177.8" x2="1637.6" y2="177.8" stroke="#9c1c63" stroke-width="5"/>
<circle cx="1572.9" cy="177.8" r="9.8" fill="#9c1c63"/>
<line x1="1571.9" y1="263.5" x2="1637.6" y2="263.5" stroke="#9c1c63" stroke-width="5"/>
<circle cx="1571.9" cy="263.5" r="9.8" fill="#9c1c63"/>
<line x1="1586.5" y1="335.5" x2="1637.6" y2="335.5" stroke="#9c1c63" stroke-width="5"/>
<circle cx="1586.5" cy="335.5" r="9.8" fill="#9c1c63"/>
<line x1="1700" y1="101.8" x2="1807" y2="101.8" stroke="#000" stroke-width="3.2"/>
<text x="1755.6" y="93.2" font-size="24.9" text-anchor="middle">n.s.</text>
<text x="1649.5" y="494.8" font-size="25" text-anchor="end">&lt;40 min DAC</text>
<text x="1703" y="494.6" font-size="25" text-anchor="middle">–</text>
<text x="1802.9" y="496.3" font-size="25" text-anchor="middle">+</text>
<rect x="1677.3" y="502.4" width="144.1" height="67.5" fill="#fcd6d1"/>
<text x="1749.4" y="546.9" font-size="29" text-anchor="middle">IL4-M<tspan class="sy">Φ</tspan></text>
</g>
<g id="pd">
<path d="M115.78 891.25C120.07 890.43 131.44 890.05 135.91 890.8C140.38 891.54 140.76 893.59 142.62 895.72C144.48 897.84 145.6 899.82 147.09 903.55C148.58 907.27 150.75 914.17 151.57 918.08C152.39 922 153.5 924.61 152.01 927.03C150.52 929.45 145.86 931.32 142.62 932.62C139.38 933.92 135.91 935.53 132.56 934.86C129.2 934.19 125.66 930.64 122.49 928.59C119.32 926.54 116.53 924.68 113.55 922.56C110.56 920.43 107.02 917.79 104.6 915.85C102.18 913.91 99.01 913.16 99.01 910.93C99.01 908.69 102.74 904.96 104.6 902.43C106.46 899.89 108.33 897.58 110.19 895.72C112.06 893.86 111.5 892.07 115.78 891.25Z" fill="#000"/>
<path d="M112.43 988.53C114.11 988.64 115.04 990.88 116.9 992.56C118.76 994.23 120.07 997.22 123.61 998.6C127.15 999.97 135.65 998.41 138.15 1000.83C140.64 1003.25 138.04 1008.85 138.59 1013.13C139.15 1017.42 140.09 1022.45 141.5 1026.55C142.92 1030.65 145.79 1034.38 147.09 1037.73C148.4 1041.09 149.7 1044.89 149.33 1046.68C148.96 1048.47 147.65 1049.4 144.86 1048.47C142.06 1047.54 136.66 1043.62 132.56 1041.09C128.46 1038.55 123.61 1035.68 120.26 1033.26C116.9 1030.84 114.48 1029.53 112.43 1026.55C110.38 1023.57 109.26 1019.1 107.96 1015.37C106.65 1011.64 105.53 1007.35 104.6 1004.19C103.67 1001.02 101.99 998.41 102.36 996.36C102.74 994.31 105.16 993.19 106.84 991.89C108.51 990.58 110.75 988.42 112.43 988.53Z" fill="#000"/>
<path d="M135.91 1055.62C137.03 1054.95 140.57 1053.46 141.5 1056.07C142.43 1058.68 141.76 1065.76 141.5 1071.28C141.24 1076.8 140.31 1083.58 139.94 1089.17C139.56 1094.76 139.94 1100.35 139.27 1104.83C138.59 1109.3 137.03 1111.16 135.91 1116.01C134.79 1120.85 133.86 1129.24 132.56 1133.9C131.25 1138.56 130.13 1140.8 128.08 1143.96C126.03 1147.13 123.05 1150.41 120.26 1152.91C117.46 1155.41 114.11 1158.2 111.31 1158.95C108.51 1159.69 105.42 1158.95 103.48 1157.38C101.54 1155.82 99.87 1152.54 99.68 1149.55C99.49 1146.57 100.8 1142.47 102.36 1139.49C103.93 1136.51 106.84 1134.83 109.07 1131.66C111.31 1128.49 114.48 1124.02 115.78 1120.48C117.09 1116.94 115.6 1113.4 116.9 1110.42C118.21 1107.43 121.56 1106.5 123.61 1102.59C125.66 1098.68 127.71 1092.15 129.2 1086.93C130.69 1081.72 131.62 1075.75 132.56 1071.28C133.49 1066.81 134.23 1062.71 134.79 1060.1C135.35 1057.49 134.79 1056.3 135.91 1055.62Z" fill="#000"/>
<line x1="129.2" y1="912.3" x2="188.9" y2="912.3" stroke="#9c1c63" stroke-width="4.6"/>
<circle cx="129.2" cy="912.3" r="9.6" fill="#9c1c63"/>
<line x1="130.3" y1="1015.4" x2="188.9" y2="1015.4" stroke="#9c1c63" stroke-width="4.6"/>
<circle cx="130.3" cy="1015.4" r="9.6" fill="#9c1c63"/>
<line x1="123.2" y1="1124.6" x2="188.9" y2="1124.6" stroke="#9c1c63" stroke-width="4.6"/>
<circle cx="123.2" cy="1124.6" r="9.6" fill="#9c1c63"/>
<line x1="195" y1="1035.5" x2="421" y2="1035.5" stroke="#000" stroke-width="1.9" stroke-dasharray="0 4.6" stroke-linecap="round"/>
<path d="M257 917.4V1000.5M257 1072.2V1165.6M240.45 917.4H273.55M240.45 1165.6H273.55" fill="none" stroke="#000" stroke-width="3.4" stroke-linecap="round"/>
<rect x="224.5" y="1000.5" width="65.3" height="71.7" fill="#c4c4c4" stroke="#000" stroke-width="3.3"/>
<line x1="224.5" y1="1037.2" x2="289.8" y2="1037.2" stroke="#000" stroke-width="3.3"/>
<path d="M254.68 928.23h0M263.98 929.23h0M250.03 929.61h0M259.32 930.5h0M254.68 931.08h0M263.98 932.48h0M250.03 932.57h0M259.32 934.68h0M250.03 935.63h0M254.68 936.39h0M259.32 938.12h0M250.03 938.73h0M254.68 939.76h0M259.32 940.84h0M263.98 941.74h0M250.03 942.33h0M254.68 942.6h0M259.32 943.92h0M263.98 944.76h0M250.03 945.2h0M254.68 946.47h0M259.32 948.4h0M250.03 949.74h0M254.68 950.27h0M263.98 957.42h0M259.32 958.39h0M254.68 958.58h0M268.62 960.24h0M245.38 960.6h0M250.03 961.1h0M259.32 964.65h0M250.03 965.91h0M254.68 966.55h0M259.32 972.93h0M245.38 973.13h0M268.62 973.83h0M250.03 974.27h0M254.68 975.75h0M245.38 976.17h0M263.98 977.63h0M263.98 981.65h0M254.68 982.89h0M250.03 984.08h0M268.62 984.53h0M245.38 985.42h0M263.98 986.09h0M254.68 986.69h0M259.32 987.72h0M250.03 988.03h0M268.62 988.81h0M245.38 989.12h0M263.98 989.54h0M254.68 990.4h0M259.32 990.56h0M240.72 991.9h0M273.27 992.02h0M268.62 992.52h0M245.38 993.21h0M250.03 994.78h0M263.98 995.38h0M240.72 995.65h0M268.62 998.68h0M263.98 1000.49h0M254.68 1000.92h0M250.03 1001.74h0M273.27 1002.32h0M236.07 1002.55h0M240.72 1003.19h0M277.93 1003.63h0M268.62 1004.64h0M263.98 1005.38h0M245.38 1005.98h0M254.68 1006.25h0M273.27 1006.68h0M259.32 1007.31h0M268.62 1007.66h0M263.98 1008.05h0M250.03 1009.11h0M254.68 1009.99h0M245.38 1010.02h0M263.98 1011.4h0M259.32 1011.66h0M245.38 1012.8h0M250.03 1014.46h0M263.98 1018.26h0M254.68 1019.7h0M273.27 1020.1h0M268.62 1020.63h0M245.38 1021.32h0M263.98 1021.8h0M240.72 1022.09h0M273.27 1022.92h0M250.03 1023.34h0M268.62 1023.9h0M263.98 1024.49h0M277.93 1024.69h0M236.07 1025.1h0M245.38 1025.76h0M263.98 1027.23h0M254.68 1027.78h0M259.32 1028.76h0M245.38 1029.39h0M250.03 1031.45h0M259.32 1031.99h0M277.93 1032.14h0M236.07 1032.91h0M268.62 1033.04h0M263.98 1033.7h0M254.68 1034.37h0M250.03 1034.81h0M273.27 1035.28h0M268.62 1037.08h0M263.98 1037.91h0M250.03 1038.03h0M245.38 1038.64h0M259.32 1039.31h0M254.68 1040.06h0M263.98 1040.71h0M254.68 1043.36h0M259.32 1044.2h0M250.03 1046.61h0M259.32 1047.5h0M254.68 1047.75h0M263.98 1048.13h0M250.03 1049.39h0M259.32 1049.92h0M263.98 1050.88h0M254.68 1051.2h0M268.62 1051.93h0M240.72 1052.37h0M250.03 1052.64h0M273.27 1053.12h0M263.98 1053.99h0M245.38 1054.41h0M259.32 1054.82h0M254.68 1055.07h0M273.27 1055.86h0M250.03 1056.18h0M263.98 1056.82h0M245.38 1057.39h0M254.68 1057.84h0M277.93 1058.24h0M268.62 1058.75h0M250.03 1059.37h0M240.72 1059.95h0M245.38 1060.22h0M263.98 1060.86h0M273.27 1061.44h0M268.62 1061.69h0M250.03 1062.23h0M254.68 1062.83h0M263.98 1064.91h0M254.68 1066.77h0M240.72 1069.68h0M263.98 1070.48h0M273.27 1070.76h0M254.68 1071.16h0M259.32 1071.73h0M245.38 1072.94h0M250.03 1073.47h0M263.98 1074.44h0M254.68 1075.17h0M268.62 1075.71h0M250.03 1076.3h0M245.38 1076.78h0M263.98 1077.33h0M259.32 1078h0M254.68 1078.24h0M268.62 1078.89h0M250.03 1079.37h0M263.98 1080.34h0M277.93 1080.6h0M254.68 1081.17h0M273.27 1081.99h0M268.62 1082.12h0M236.07 1082.62h0M250.03 1083.13h0M254.68 1083.92h0M277.93 1084.3h0M240.72 1084.61h0M259.32 1085.04h0M245.38 1085.8h0M263.98 1086.46h0M250.03 1086.63h0M254.68 1087.32h0M263.98 1087.61h0M259.32 1088.49h0M254.68 1088.99h0M250.03 1089.84h0M263.98 1091.81h0M259.32 1093.41h0M250.03 1093.62h0M263.98 1095.84h0M250.03 1097.21h0M259.32 1102.48h0M254.68 1103.27h0M263.98 1104.83h0M250.03 1105.18h0M259.32 1105.64h0M254.68 1106.28h0M263.98 1107.65h0M259.32 1108.95h0M254.68 1110.16h0M250.03 1111.72h0M263.98 1113.39h0M254.68 1114h0M259.32 1115.51h0M259.32 1119.74h0M254.68 1120.45h0M263.98 1122.26h0M250.03 1122.76h0M254.68 1125.68h0M259.32 1129.64h0M254.68 1130.67h0M259.32 1135.89h0M259.32 1139.02h0M254.68 1143.73h0M259.32 1145.07h0M259.32 1151.84h0" fill="none" stroke="#000" stroke-width="3.68" stroke-linecap="round"/>
<path d="M356.5 916.7V953.1M356.5 1030.2V1152.7M339.95 916.7H373.05M339.95 1152.7H373.05" fill="none" stroke="#000" stroke-width="3.4" stroke-linecap="round"/>
<rect x="323.9" y="953.1" width="65.3" height="77.1" fill="#c4c4c4" stroke="#000" stroke-width="3.3"/>
<line x1="323.9" y1="982.5" x2="389.2" y2="982.5" stroke="#000" stroke-width="3.3"/>
<path d="M363.48 922.14h0M349.52 922.55h0M354.18 926.38h0M349.52 927.07h0M363.48 929.07h0M358.82 929.5h0M344.88 930.05h0M368.12 930.75h0M354.18 931.38h0M349.52 931.91h0M368.12 933.51h0M363.48 934.04h0M349.52 935.42h0M363.48 936.87h0M368.12 937.6h0M344.88 938.25h0M354.18 939.44h0M368.12 940.62h0M344.88 942.47h0M358.82 942.6h0M363.48 944.01h0M368.12 944.67h0M340.23 945.08h0M368.12 947.56h0M377.43 948.09h0M382.07 948.29h0M335.57 948.83h0M344.88 949.39h0M363.48 949.63h0M358.82 950.42h0M349.52 950.83h0M372.77 950.51h0M340.23 951.31h0M330.93 951.73h0M368.12 952.35h0M335.57 952.33h0M363.48 952.57h0M372.77 953.16h0M358.82 953.78h0M382.07 953.79h0M340.23 954.18h0M335.57 954.94h0M354.18 955.34h0M349.52 955.6h0M372.77 956.44h0M363.48 956.77h0M340.23 957.4h0M335.57 957.78h0M344.88 958.22h0M358.82 958.91h0M354.18 959.25h0M372.77 959.86h0M377.43 960.01h0M340.23 960.36h0M349.52 960.82h0M363.48 961.27h0M326.27 961.04h0M386.73 961.91h0M358.82 961.81h0M330.93 962.25h0M354.18 962.85h0M344.88 963.18h0M340.23 963.73h0M377.43 964.47h0M363.48 964.82h0M326.27 965.22h0M386.73 965.28h0M372.77 965.63h0M349.52 965.81h0M354.18 966.49h0M358.82 966.55h0M368.12 967.45h0M340.23 967.89h0M344.88 968.26h0M349.52 968.98h0M363.48 969.02h0M354.18 970.38h0M372.77 970.86h0M358.82 971.25h0M340.23 971.81h0M368.12 972.02h0M363.48 972.87h0M344.88 973.34h0M335.57 973.77h0M372.77 974.4h0M358.82 974.52h0M368.12 975.44h0M349.52 975.62h0M344.88 976.11h0M335.57 976.81h0M358.82 977.37h0M354.18 977.74h0M349.52 978.54h0M363.48 980.41h0M354.18 982.49h0M358.82 983.81h0M349.52 984.38h0M340.23 984.9h0M372.77 985.28h0M344.88 985.75h0M377.43 986.42h0M354.18 986.6h0M335.57 987.61h0M358.82 988.24h0M349.52 988.99h0M368.12 989.01h0M372.77 989.99h0M354.18 990.18h0M358.82 992.63h0M344.88 993.85h0M354.18 994.33h0M358.82 995.25h0M349.52 995.76h0M368.12 996.21h0M363.48 999.6h0M358.82 1000.86h0M354.18 1001.24h0M363.48 1003.17h0M354.18 1004.53h0M349.52 1005.04h0M363.48 1006.22h0M354.18 1007.91h0M344.88 1008.04h0M335.57 1008.59h0M368.12 1009.98h0M340.23 1010.26h0M344.88 1011.92h0M358.82 1012.42h0M349.52 1013.31h0M372.77 1013.94h0M358.82 1015.22h0M349.52 1016.8h0M354.18 1017.44h0M363.48 1017.77h0M358.82 1018.77h0M349.52 1019.87h0M354.18 1020.4h0M363.48 1021h0M358.82 1022.36h0M349.52 1022.68h0M354.18 1023.31h0M363.48 1024.13h0M354.18 1027.01h0M358.82 1027.72h0M349.52 1030.07h0M354.18 1030.67h0M363.48 1031.79h0M358.82 1032.24h0M349.52 1033.75h0M354.18 1034.46h0M363.48 1034.76h0M344.88 1035.93h0M358.82 1037.61h0M340.23 1038.04h0M354.18 1038.55h0M363.48 1039.74h0M358.82 1040.34h0M349.52 1041.09h0M344.88 1042.43h0M354.18 1042.97h0M363.48 1043.92h0M377.43 1044.11h0M368.12 1044.82h0M349.52 1045.56h0M372.77 1046.19h0M354.18 1046.65h0M344.88 1047.3h0M363.48 1047.81h0M335.57 1048.36h0M372.77 1048.92h0M349.52 1049.16h0M340.23 1049.66h0M354.18 1050.21h0M344.88 1052.3h0M349.52 1052.89h0M363.48 1053.29h0M354.18 1053.93h0M358.82 1054.97h0M344.88 1055.77h0M363.48 1058.99h0M354.18 1060.82h0M349.52 1064.44h0M358.82 1064.62h0M354.18 1065.03h0M363.48 1066.26h0M354.18 1066.66h0M358.82 1067.73h0M349.52 1069.38h0M354.18 1075.46h0M358.82 1076.19h0M358.82 1077.4h0M354.18 1077.54h0M349.52 1080.42h0M358.82 1082.86h0M363.48 1083.88h0M363.48 1086.93h0M349.52 1087.17h0M354.18 1090.25h0M358.82 1091.22h0M358.82 1095.4h0M358.82 1098.45h0M354.18 1101.29h0M358.82 1102.72h0M354.18 1104.59h0M358.82 1107.85h0M354.18 1108.88h0M354.18 1111.97h0M363.48 1112.36h0M358.82 1113.8h0M349.52 1115.83h0M354.18 1116.9h0M358.82 1117.33h0M358.82 1120.37h0M354.18 1123.8h0M354.18 1127.27h0M358.82 1127.54h0M363.48 1128.31h0M363.48 1131.05h0M354.18 1132.22h0M358.82 1132.52h0M349.52 1133.83h0M358.82 1136.86h0M354.18 1139.24h0M358.82 1139.73h0" fill="none" stroke="#000" stroke-width="3.68" stroke-linecap="round"/>
<line x1="191.25" y1="831.5" x2="191.25" y2="1239.6" stroke="#000" stroke-width="2.3"/>
<line x1="181.6" y1="1238.5" x2="422.8" y2="1238.5" stroke="#000" stroke-width="2.3"/>
<line x1="181.6" y1="832.5" x2="191" y2="832.5" stroke="#000" stroke-width="2.2"/>
<line x1="181.6" y1="933.8" x2="191" y2="933.8" stroke="#000" stroke-width="2.2"/>
<line x1="181.6" y1="1035.5" x2="191" y2="1035.5" stroke="#000" stroke-width="2.2"/>
<line x1="181.6" y1="1136.8" x2="191" y2="1136.8" stroke="#000" stroke-width="2.2"/>
<line x1="257" y1="1238.5" x2="257" y2="1247.8" stroke="#000" stroke-width="2.2"/>
<line x1="356.5" y1="1238.5" x2="356.5" y2="1247.8" stroke="#000" stroke-width="2.2"/>
<text x="173" y="840.5" font-size="24.3" text-anchor="end">4</text>
<text x="173" y="941.8" font-size="24.3" text-anchor="end">2</text>
<text x="173" y="1043.5" font-size="24.3" text-anchor="end">0</text>
<text x="173" y="1144.8" font-size="24.3" text-anchor="end">–2</text>
<text x="173" y="1246.5" font-size="24.3" text-anchor="end">–4</text>
<text font-size="24.7" text-anchor="middle" transform="translate(72 1026.5) rotate(-90)">Cell circularity (<tspan font-style="italic">z</tspan>-score)</text>
<line x1="255.8" y1="891.7" x2="362.9" y2="891.7" stroke="#000" stroke-width="3.4"/>
<text x="256.5" y="879.8" font-size="24.4"><tspan font-style="italic">P</tspan> = 0.002</text>
<text x="197.6" y="1277.3" font-size="25" text-anchor="end">24 h DAC</text>
<text x="257" y="1277" font-size="25" text-anchor="middle">–</text>
<text x="356.5" y="1278.8" font-size="25" text-anchor="middle">+</text>
<rect x="228" y="1287.1" width="143.8" height="67.5" fill="#fcd6d1"/>
<text x="300.6" y="1332.6" font-size="29" text-anchor="middle">IL4-M<tspan class="sy">Φ</tspan></text>
</g>
<g id="pf">
<path d="M1401.2 775.6C1405.14 773.36 1405.84 772.48 1411.6 772.48C1417.37 772.48 1421.05 775.78 1425.9 775.6C1430.76 775.42 1430.58 770.49 1432.4 771.7C1434.22 772.91 1432.37 776.86 1433.7 780.8C1435.04 784.74 1437.52 784.35 1438.12 788.6C1438.73 792.85 1437.64 794.15 1436.3 799C1434.97 803.86 1434.22 804.25 1432.4 809.4C1430.58 814.56 1432.14 818.07 1428.5 821.1C1424.86 824.14 1422.57 822.4 1416.8 822.4C1411.04 822.4 1408.96 822.01 1403.8 821.1C1398.64 820.19 1398.64 820.32 1394.7 818.5C1390.76 816.68 1388.42 816.64 1386.9 813.3C1385.38 809.97 1388.63 807.54 1388.2 804.2C1387.78 800.86 1384.78 802.95 1385.08 799C1385.38 795.06 1387.26 791.24 1389.5 787.3C1391.75 783.36 1391.97 784.83 1394.7 782.1C1397.43 779.37 1397.26 777.85 1401.2 775.6Z" fill="#000"/>
<path d="M1396 877C1397.7 877 1398.17 882.2 1401.2 882.2C1404.23 882.2 1405.66 879.01 1409 877C1412.34 875 1411.56 874.41 1415.5 873.62C1419.45 872.84 1421.66 872.23 1425.9 873.62C1430.15 875.02 1431.58 875.78 1433.7 879.6C1435.83 883.43 1435.31 884.85 1435 890.01C1434.7 895.16 1434.53 897.46 1432.4 901.71C1430.28 905.95 1428.94 904.26 1425.9 908.21C1422.87 912.15 1422.13 913.15 1419.4 918.61C1416.67 924.07 1416.63 926.15 1414.2 931.61C1411.78 937.07 1412.64 938.37 1409 942.01C1405.36 945.65 1402.54 946.3 1398.6 947.21C1394.66 948.12 1393.62 947.73 1392.1 945.91C1390.58 944.09 1391.19 943.35 1392.1 939.41C1393.01 935.46 1394.79 934.47 1396 929.01C1397.21 923.55 1397.91 921.47 1397.3 916.01C1396.69 910.55 1395.83 910.46 1393.4 905.61C1390.97 900.75 1387.81 900.06 1386.9 895.21C1385.99 890.35 1387.86 887.84 1389.5 884.8C1391.14 881.77 1392.4 884.02 1393.92 882.2C1395.44 880.38 1394.3 877 1396 877Z" fill="#000"/>
<path d="M1393.4 981.53C1395.52 981.04 1396.48 981.82 1398.6 984.13C1400.72 986.43 1399.16 990.01 1402.5 991.41C1405.84 992.8 1408.35 989.2 1412.9 990.11C1417.45 991.02 1418.36 991.97 1422 995.31C1425.64 998.65 1425.47 1001.07 1428.5 1004.41C1431.54 1007.75 1430.45 1007.79 1435 1009.61C1439.55 1011.43 1443.45 1011.91 1448 1012.21C1452.55 1012.51 1452.8 1010.3 1454.5 1010.91C1456.2 1011.52 1457.41 1013.17 1455.28 1014.81C1453.16 1016.45 1449.23 1016.41 1445.4 1017.93C1441.58 1019.45 1442.24 1020.83 1438.9 1021.31C1435.57 1021.8 1434.14 1020.92 1431.1 1020.01C1428.07 1019.1 1428.63 1017.41 1425.9 1017.41C1423.17 1017.41 1424.26 1019.22 1419.4 1020.01C1414.55 1020.8 1410.26 1022.31 1405.1 1020.79C1399.94 1019.27 1401.24 1017.03 1397.3 1013.51C1393.36 1009.99 1391.66 1009.05 1388.2 1005.71C1384.74 1002.37 1383.09 1002.24 1382.48 999.21C1381.87 996.18 1383.96 995.74 1385.6 992.71C1387.24 989.68 1387.68 988.82 1389.5 986.21C1391.32 983.6 1391.28 982.01 1393.4 981.53Z" fill="#000"/>
<path d="M1375.2 1079.29C1376.72 1078.99 1381.05 1081.68 1385.6 1082.41C1390.15 1083.14 1390.76 1084.23 1394.7 1082.41C1398.64 1080.59 1400.07 1075.7 1402.5 1074.61C1404.93 1073.52 1402.07 1076.52 1405.1 1077.73C1408.13 1078.95 1410.65 1078.11 1415.5 1079.81C1420.36 1081.51 1420.75 1083.5 1425.9 1085.01C1431.06 1086.53 1432.45 1086.92 1437.6 1086.31C1442.76 1085.71 1443.76 1082.41 1448 1082.41C1452.25 1082.41 1453.38 1083.89 1455.8 1086.31C1458.23 1088.74 1460.22 1090.39 1458.4 1092.81C1456.58 1095.24 1452.86 1094.89 1448 1096.71C1443.15 1098.53 1442.76 1100.01 1437.6 1100.61C1432.45 1101.22 1431.36 1098.4 1425.9 1099.31C1420.44 1100.22 1420.57 1103.6 1414.2 1104.51C1407.83 1105.42 1403.45 1105.34 1398.6 1103.21C1393.75 1101.09 1396.43 1098.93 1393.4 1095.41C1390.37 1091.89 1388.94 1090.86 1385.6 1088.13C1382.26 1085.4 1381.53 1085.78 1379.1 1083.71C1376.67 1081.65 1373.68 1079.6 1375.2 1079.29Z" fill="#000"/>
<line x1="1487" y1="921" x2="1963" y2="921" stroke="#000" stroke-width="2.1" stroke-dasharray="0 5.05" stroke-linecap="round"/>
<path d="M1532.7 758.3V876.1M1532.7 955.6V1123.3M1519.95 758.3H1545.45M1519.95 1123.3H1545.45" fill="none" stroke="#000" stroke-width="4.5" stroke-linecap="round"/>
<rect x="1508.1" y="876.1" width="49.8" height="79.5" fill="#c4c4c4" stroke="#000" stroke-width="4.2"/>
<line x1="1508.1" y1="919.3" x2="1557.9" y2="919.3" stroke="#000" stroke-width="4.2"/>
<path d="M1532.7 820.28h0M1523 820.67h0M1547.25 821.72h0M1527.85 822.45h0M1542.4 823.16h0M1542.4 826.95h0M1523 827.38h0M1527.85 828.42h0M1532.7 828.99h0M1537.55 829.01h0M1542.4 832.57h0M1532.7 834.29h0M1542.4 836.49h0M1527.85 836.83h0M1532.7 837.37h0M1532.7 845.42h0M1532.7 849.99h0M1527.85 850.03h0M1542.4 851.01h0M1537.55 855.33h0M1532.7 856.46h0M1527.85 856.91h0M1527.85 857.24h0M1537.55 859.46h0M1532.7 859.92h0M1527.85 860.96h0M1532.7 863.4h0M1527.85 864.58h0M1537.55 865.29h0M1537.55 869.33h0M1532.7 870.34h0M1527.85 870.62h0M1523 871.28h0M1542.4 872.28h0M1518.15 872.87h0M1547.25 873.77h0M1537.55 875.87h0M1532.7 876.3h0M1518.15 876.67h0M1547.25 877.36h0M1523 877.95h0M1532.7 880.87h0M1537.55 881.69h0M1523 882.22h0M1518.15 882.87h0M1542.4 883.75h0M1532.7 884.24h0M1527.85 884.52h0M1518.15 886.26h0M1527.85 888.13h0M1523 888.98h0M1542.4 889.09h0M1547.25 889.94h0M1532.7 890.05h0M1537.55 890.91h0M1527.85 891.42h0M1542.4 892.42h0M1547.25 892.96h0M1532.7 893.54h0M1518.15 894.05h0M1537.55 894.83h0M1542.4 895.86h0M1532.7 897.45h0M1547.25 897.77h0M1527.85 898.43h0M1518.15 898.55h0M1537.55 900.78h0M1542.4 901.02h0M1523 901.69h0M1527.85 902.18h0M1532.7 903.36h0M1523 903.6h0M1537.55 904.43h0M1527.85 906.43h0M1532.7 907.45h0M1537.55 908.71h0M1523 909.68h0M1542.4 910.48h0M1532.7 911.3h0M1523 913.1h0M1537.55 915.41h0M1532.7 917.29h0M1518.15 918.11h0M1542.4 918.86h0M1527.85 919.22h0M1547.25 919.53h0M1523 920.1h0M1537.55 920.99h0M1518.15 921.99h0M1527.85 922.85h0M1542.4 923.09h0M1547.25 923.93h0M1523 924.87h0M1527.85 927.47h0M1537.55 928.45h0M1542.4 929.88h0M1523 930.75h0M1532.7 931.14h0M1537.55 931.93h0M1527.85 932.09h0M1523 934.67h0M1542.4 935.19h0M1527.85 936.32h0M1532.7 936.94h0M1537.55 938.87h0M1527.85 939.64h0M1523 940.2h0M1542.4 941.01h0M1537.55 942.14h0M1532.7 942.79h0M1518.15 943.37h0M1547.25 944.87h0M1523 945.61h0M1527.85 946.22h0M1542.4 947.93h0M1527.85 949.27h0M1518.15 949.82h0M1537.55 950.14h0M1537.55 955.02h0M1518.15 955.77h0M1542.4 956.03h0M1532.7 956.67h0M1523 957.09h0M1527.85 957.61h0M1537.55 958.41h0M1547.25 959.65h0M1542.4 960.47h0M1523 960.77h0M1537.55 962.55h0M1537.55 967.76h0M1532.7 973.58h0M1527.85 977.84h0M1532.7 985.23h0M1527.85 987.74h0M1527.85 992.24h0M1537.55 992.85h0M1532.7 993.48h0M1527.85 993.98h0M1537.55 994.08h0M1537.55 995.4h0M1532.7 996.75h0M1527.85 998.29h0M1537.55 998.59h0M1532.7 1003.35h0M1537.55 1004.41h0M1527.85 1005.75h0M1532.7 1006.98h0M1527.85 1010.36h0M1537.55 1012.07h0M1527.85 1015.2h0M1527.85 1031.71h0M1537.55 1036.08h0M1537.55 1056.79h0M1527.85 1063.1h0M1537.55 1083.33h0" fill="none" stroke="#000" stroke-width="3.91" stroke-linecap="round"/>
<path d="M1609 761.3V884.8M1609 966.6V1107M1596.25 761.3H1621.75M1596.25 1107H1621.75" fill="none" stroke="#000" stroke-width="4.5" stroke-linecap="round"/>
<rect x="1584.4" y="884.8" width="49.5" height="81.8" fill="#c4c4c4" stroke="#000" stroke-width="4.2"/>
<line x1="1584.4" y1="927.3" x2="1633.9" y2="927.3" stroke="#000" stroke-width="4.2"/>
<path d="M1609 801.72h0M1613.85 805.71h0M1604.15 806.19h0M1613.85 810.73h0M1609 817.24h0M1604.15 817.5h0M1613.85 818.9h0M1613.85 820.04h0M1604.15 821.79h0M1613.85 829.13h0M1604.15 830.31h0M1609 832.6h0M1613.85 833.56h0M1604.15 834.46h0M1618.7 834.75h0M1599.3 835.17h0M1599.3 839.69h0M1613.85 843.73h0M1604.15 845.03h0M1609 846.77h0M1613.85 848.18h0M1618.7 848.64h0M1599.3 849.98h0M1604.15 850.35h0M1609 850.93h0M1613.85 851.34h0M1599.3 851.58h0M1618.7 852.13h0M1604.15 852.61h0M1599.3 855.63h0M1604.15 856.84h0M1609 857.67h0M1613.85 858.96h0M1613.85 863.39h0M1604.15 864.25h0M1613.85 867.4h0M1599.3 868.27h0M1609 869.65h0M1618.7 870.37h0M1609 872.69h0M1604.15 874.22h0M1599.3 875.05h0M1613.85 875.56h0M1609 876.55h0M1628.4 877.15h0M1599.3 878.52h0M1604.15 879.45h0M1613.85 879.53h0M1623.55 880.92h0M1618.7 881.25h0M1599.3 881.71h0M1604.15 883.54h0M1613.85 884.9h0M1623.55 885.16h0M1618.7 885.78h0M1609 886.42h0M1604.15 886.64h0M1594.45 887.37h0M1599.3 887.55h0M1613.85 888.75h0M1618.7 889.5h0M1604.15 890.5h0M1599.3 890.83h0M1609 891.2h0M1613.85 891.79h0M1618.7 892.73h0M1604.15 893.7h0M1623.55 894.63h0M1609 895.28h0M1599.3 895.52h0M1594.45 896.26h0M1604.15 897.21h0M1623.55 898.2h0M1599.3 898.66h0M1618.7 899.4h0M1604.15 900.74h0M1613.85 901.18h0M1609 901.53h0M1599.3 902.37h0M1618.7 902.86h0M1623.55 903.31h0M1604.15 904.1h0M1609 904.53h0M1594.45 905.08h0M1599.3 905.71h0M1618.7 906.04h0M1604.15 907.42h0M1623.55 908.26h0M1594.45 908.74h0M1599.3 911.28h0M1594.45 911.85h0M1613.85 913.19h0M1623.55 913.75h0M1609 914.13h0M1599.3 914.84h0M1618.7 915.53h0M1594.45 916.82h0M1604.15 917.23h0M1613.85 918.12h0M1618.7 919.42h0M1609 921.44h0M1594.45 921.79h0M1623.55 922.43h0M1618.7 922.82h0M1604.15 923.76h0M1599.3 924.32h0M1609 926.11h0M1604.15 928.19h0M1618.7 928.65h0M1613.85 929.05h0M1594.45 930.02h0M1623.55 930.82h0M1599.3 932.19h0M1589.6 932.96h0M1628.4 933.45h0M1613.85 934.41h0M1618.7 934.79h0M1594.45 935.54h0M1589.6 937.96h0M1609 938.23h0M1599.3 938.72h0M1604.15 939.49h0M1594.45 939.93h0M1623.55 940.02h0M1628.4 940.86h0M1589.6 941.4h0M1618.7 941.74h0M1609 942.83h0M1594.45 943.76h0M1623.55 944.26h0M1599.3 944.93h0M1618.7 945.42h0M1604.15 946.34h0M1613.85 946.84h0M1623.55 947.37h0M1609 947.62h0M1589.6 948.33h0M1628.4 948.63h0M1618.7 949.71h0M1604.15 950.39h0M1609 951.14h0M1628.4 951.86h0M1623.55 952.47h0M1589.6 953.38h0M1599.3 953.96h0M1609 954.86h0M1594.45 955.5h0M1604.15 955.75h0M1623.55 956.92h0M1618.7 957.03h0M1609 958.11h0M1613.85 959.26h0M1599.3 960.64h0M1604.15 961.7h0M1609 963.51h0M1618.7 964.32h0M1604.15 965h0M1613.85 965.08h0M1628.4 965.52h0M1609 966.73h0M1599.3 967.28h0M1618.7 967.75h0M1604.15 970h0M1613.85 970.08h0M1604.15 974.85h0M1599.3 979.22h0M1604.15 982.01h0M1613.85 982.72h0M1609 983.35h0M1613.85 984.12h0M1613.85 984.66h0M1604.15 987.4h0M1609 987.6h0M1613.85 988.21h0M1609 988.92h0M1618.7 990.42h0M1599.3 991.71h0M1604.15 994.58h0M1604.15 997.68h0M1613.85 998.92h0M1609 1000.01h0M1604.15 1010.76h0M1613.85 1020.99h0M1609 1021.29h0M1604.15 1026.7h0M1613.85 1027.41h0M1609 1029.53h0M1604.15 1032.89h0M1613.85 1033.2h0M1599.3 1034.86h0M1618.7 1035.06h0M1613.85 1037.26h0M1604.15 1037.93h0M1604.15 1041.56h0M1604.15 1062.25h0M1609 1062.61h0M1613.85 1065.06h0M1609 1065.67h0M1604.15 1066.12h0M1613.85 1066.88h0" fill="none" stroke="#000" stroke-width="3.91" stroke-linecap="round"/>
<path d="M1685.3 751.3V875.4M1685.3 974.9V1166.3M1672.55 751.3H1698.05M1672.55 1166.3H1698.05" fill="none" stroke="#000" stroke-width="4.5" stroke-linecap="round"/>
<rect x="1660.8" y="875.4" width="49.4" height="99.5" fill="#c4c4c4" stroke="#000" stroke-width="4.2"/>
<line x1="1660.8" y1="927.3" x2="1710.2" y2="927.3" stroke="#000" stroke-width="4.2"/>
<path d="M1680.45 813.97h0M1690.15 814.51h0M1690.15 818.23h0M1685.3 820.7h0M1680.45 822.86h0M1685.3 825.67h0M1680.45 827.2h0M1685.3 828.75h0M1690.15 830.21h0M1690.15 837.44h0M1685.3 837.76h0M1680.45 839.88h0M1690.15 841.02h0M1685.3 841.96h0M1680.45 844.46h0M1690.15 844.57h0M1685.3 845.12h0M1690.15 849.73h0M1685.3 863.36h0M1690.15 863.92h0M1695 864.57h0M1680.45 867.33h0M1675.6 868.55h0M1690.15 870.6h0M1695 871.63h0M1680.45 872.97h0M1675.6 873.82h0M1685.3 874.36h0M1690.15 876.1h0M1680.45 876.62h0M1695 877.19h0M1685.3 879.34h0M1675.6 879.58h0M1680.45 881.31h0M1690.15 882.07h0M1695 882.67h0M1675.6 883.04h0M1685.3 883.62h0M1685.3 884.19h0M1680.45 884.65h0M1690.15 885.14h0M1675.6 886.89h0M1685.3 887.86h0M1690.15 888.89h0M1680.45 890.85h0M1685.3 892.21h0M1690.15 892.6h0M1680.45 895.44h0M1685.3 895.82h0M1690.15 896.46h0M1680.45 896.63h0M1685.3 898.67h0M1675.6 900.96h0M1695 901.43h0M1680.45 902.6h0M1690.15 903.42h0M1675.6 905.81h0M1680.45 907.81h0M1685.3 909.76h0M1675.6 911.05h0M1685.3 919.42h0M1680.45 919.84h0M1690.15 920.88h0M1675.6 921.62h0M1680.45 923.94h0M1675.6 925.31h0M1690.15 930.67h0M1680.45 934.74h0M1690.15 935.37h0M1685.3 936.59h0M1675.6 937.08h0M1690.15 938.78h0M1685.3 940.91h0M1675.6 943.26h0M1685.3 944.87h0M1695 946.68h0M1680.45 947.82h0M1690.15 949.54h0M1685.3 950.97h0M1695 952.39h0M1680.45 952.58h0M1690.15 953.18h0M1675.6 953.57h0M1685.3 954.84h0M1675.6 955.32h0M1680.45 955.79h0M1695 957.06h0M1680.45 958.82h0M1675.6 959.5h0M1685.3 961.14h0M1690.15 962.7h0M1685.3 965.19h0M1680.45 966.1h0M1695 966.93h0M1690.15 967.33h0M1675.6 969.31h0M1685.3 969.81h0M1680.45 970.66h0M1690.15 972.1h0M1685.3 973.83h0M1675.6 974.24h0M1680.45 974.52h0M1690.15 975.24h0M1695 976.6h0M1685.3 978.95h0M1680.45 979.05h0M1690.15 980.3h0M1680.45 981.35h0M1690.15 987.1h0M1680.45 989.46h0M1690.15 1021.65h0M1680.45 1026.35h0M1690.15 1030.53h0M1680.45 1033.02h0M1690.15 1049.36h0M1680.45 1051.05h0M1680.45 1062.16h0M1690.15 1063.63h0M1680.45 1067.08h0M1680.45 1088.19h0M1690.15 1089.27h0M1680.45 1091.33h0" fill="none" stroke="#000" stroke-width="3.91" stroke-linecap="round"/>
<path d="M1761.7 753.3V865.4M1761.7 968.6V1137.3M1748.95 753.3H1774.45M1748.95 1137.3H1774.45" fill="none" stroke="#000" stroke-width="4.5" stroke-linecap="round"/>
<rect x="1737.1" y="865.4" width="49.5" height="103.2" fill="#c4c4c4" stroke="#000" stroke-width="4.2"/>
<line x1="1737.1" y1="921.7" x2="1786.6" y2="921.7" stroke="#000" stroke-width="4.2"/>
<path d="M1756.85 773.07h0M1756.85 793.47h0M1766.55 794.98h0M1761.7 795.6h0M1761.7 805.99h0M1756.85 806.23h0M1766.55 806.52h0M1761.7 808.28h0M1766.55 808.76h0M1756.85 811.75h0M1761.7 813.4h0M1771.4 816.17h0M1766.55 817.57h0M1756.85 824.08h0M1761.7 825.33h0M1766.55 825.81h0M1756.85 828.81h0M1761.7 831.59h0M1756.85 832.01h0M1756.85 835.45h0M1761.7 835.57h0M1766.55 838.2h0M1756.85 839.21h0M1761.7 839.78h0M1756.85 842.79h0M1761.7 843.34h0M1766.55 845.51h0M1756.85 846.16h0M1771.4 846.7h0M1771.4 850.98h0M1756.85 851.04h0M1752 852.34h0M1761.7 853.21h0M1766.55 853.78h0M1771.4 854.22h0M1747.15 854.79h0M1756.85 856.7h0M1771.4 857.86h0M1752 861.44h0M1766.55 862.11h0M1756.85 863.48h0M1771.4 864.08h0M1752 865.99h0M1756.85 868.02h0M1752 869.25h0M1761.7 870.72h0M1776.25 871.1h0M1771.4 872.4h0M1752 872.97h0M1747.15 873.68h0M1761.7 874.78h0M1776.25 875.01h0M1766.55 875.62h0M1756.85 876.11h0M1752 877h0M1771.4 878.06h0M1761.7 879.05h0M1756.85 879.65h0M1766.55 880.28h0M1761.7 882.48h0M1766.55 883.37h0M1752 884.17h0M1756.85 884.92h0M1771.4 885.12h0M1761.7 885.93h0M1761.7 886.16h0M1766.55 886.87h0M1752 887.75h0M1756.85 888.92h0M1761.7 890.49h0M1776.25 891h0M1771.4 891.88h0M1766.55 892.46h0M1747.15 892.79h0M1752 893.38h0M1756.85 893.66h0M1761.7 895.45h0M1771.4 895.87h0M1756.85 896.9h0M1766.55 897.49h0M1771.4 900.31h0M1766.55 903.51h0M1776.25 904.26h0M1752 904.7h0M1747.15 905.93h0M1771.4 906.73h0M1761.7 907.11h0M1766.55 907.61h0M1752 909.41h0M1756.85 910.93h0M1761.7 911.95h0M1771.4 913.88h0M1766.55 915.61h0M1752 916.05h0M1776.25 917.68h0M1771.4 918.05h0M1756.85 918.6h0M1752 919.78h0M1766.55 922.38h0M1761.7 922.72h0M1756.85 923.82h0M1771.4 924.52h0M1752 925.32h0M1761.7 926.63h0M1766.55 929.2h0M1756.85 930.99h0M1771.4 932.62h0M1752 933.13h0M1747.15 933.57h0M1756.85 934.15h0M1761.7 935.24h0M1776.25 936.59h0M1747.15 937.74h0M1752 938.05h0M1756.85 938.92h0M1761.7 939.69h0M1766.55 940.2h0M1776.25 940.64h0M1771.4 941.25h0M1752 942.78h0M1756.85 944.43h0M1771.4 945.28h0M1752 947.36h0M1766.55 948.24h0M1761.7 948.9h0M1776.25 949.35h0M1747.15 951.11h0M1752 951.98h0M1776.25 952.35h0M1771.4 952.74h0M1766.55 953.5h0M1756.85 953.94h0M1761.7 954.39h0M1776.25 956.13h0M1747.15 956.64h0M1756.85 957.01h0M1752 957.69h0M1771.4 959.27h0M1766.55 962h0M1761.7 963.82h0M1756.85 964.13h0M1771.4 966.25h0M1776.25 967.39h0M1761.7 968.99h0M1747.15 969.42h0M1771.4 970.09h0M1776.25 971.99h0M1766.55 972h0M1752 972.8h0M1756.85 974.5h0M1752 975.88h0M1771.4 976.41h0M1766.55 976.71h0M1761.7 977.33h0M1756.85 977.68h0M1766.55 978.05h0M1766.55 982.88h0M1761.7 983.18h0M1756.85 986.48h0M1766.55 986.89h0M1761.7 987.8h0M1766.55 988.2h0M1756.85 989.81h0M1761.7 991.62h0M1766.55 992.22h0M1752 992.99h0M1756.85 993.39h0M1771.4 994.32h0M1761.7 994.8h0M1766.55 995.25h0M1761.7 996.16h0M1756.85 996.58h0M1761.7 997.68h0M1766.55 999.38h0M1766.55 999.58h0M1766.55 1002.63h0M1761.7 1005.25h0M1756.85 1007.52h0M1761.7 1009.28h0M1756.85 1011.14h0M1766.55 1011.92h0M1756.85 1026.12h0M1766.55 1030.85h0M1761.7 1032.6h0M1766.55 1034.33h0M1761.7 1036.16h0M1766.55 1056.27h0M1756.85 1058.62h0M1766.55 1066.33h0M1766.55 1112.75h0M1766.55 1117.77h0" fill="none" stroke="#000" stroke-width="3.91" stroke-linecap="round"/>
<path d="M1837.7 769.3V904.1M1837.7 1002.2V1170.3M1824.95 769.3H1850.45M1824.95 1170.3H1850.45" fill="none" stroke="#000" stroke-width="4.5" stroke-linecap="round"/>
<rect x="1813.1" y="904.1" width="49.1" height="98.1" fill="#c4c4c4" stroke="#000" stroke-width="4.2"/>
<line x1="1813.1" y1="958.3" x2="1862.2" y2="958.3" stroke="#000" stroke-width="4.2"/>
<path d="M1834.42 780.39h0M1841.54 786.38h0M1832.26 786.68h0M1833.47 790.7h0M1839.12 798.29h0M1842.01 798.92h0M1831.77 799.7h0M1838.88 800.18h0M1837.09 800.51h0M1841.69 801.33h0M1833.13 802.16h0M1837.56 803.42h0M1832.88 803.97h0M1841.2 804.03h0M1836.52 804.58h0M1843.15 805.41h0M1832.21 806.05h0M1838.15 806.99h0M1842.3 807.17h0M1836.71 808.72h0M1841.29 809.46h0M1833.42 809.69h0M1846.39 810.02h0M1827.62 810.74h0M1839.14 810.86h0M1842.11 811.45h0M1832.55 811.54h0M1845.92 812.16h0M1828.01 812.86h0M1834 813.47h0M1837.59 813.81h0M1848.6 814.17h0M1828.28 814.92h0M1833.21 815.36h0M1843.76 815.73h0M1836.15 816.43h0M1833.38 816.83h0M1843.47 817.47h0M1838.51 819.06h0M1832.15 819.56h0M1841.14 820.86h0M1837.22 821.06h0M1834.22 821.73h0M1846.04 822.29h0M1828.45 822.87h0M1838.58 823.11h0M1832.86 823.94h0M1844.13 824.41h0M1848.29 824.81h0M1837.73 825.27h0M1828.13 826h0M1833.41 825.66h0M1841.26 826.19h0M1844.08 826.06h0M1846.04 826.78h0M1836.37 827.04h0M1832.92 827.91h0M1829.13 828.37h0M1843.51 828.74h0M1836.89 829.1h0M1848.1 829.97h0M1826.74 830.14h0M1832.12 830.41h0M1841.09 831h0M1826.77 830.67h0M1839.13 831.43h0M1846.99 831.6h0M1833.89 832.26h0M1843.07 832.75h0M1826.79 833.26h0M1838.02 833.87h0M1831.31 834.05h0M1848.68 834.16h0M1841.02 834.67h0M1827.97 835.33h0M1837.37 835.01h0M1834.3 835.87h0M1826.43 835.65h0M1847.88 836.5h0M1843.97 836.4h0M1837.78 836.76h0M1827.68 836.65h0M1850.74 837.15h0M1824.48 837.75h0M1828.45 838.35h0M1843.27 838.31h0M1832.17 838.67h0M1851.39 838.97h0M1847.03 839.27h0M1823.13 839.9h0M1838.82 839.55h0M1826.72 840.16h0M1844.08 840.94h0M1846.79 841.21h0M1834.19 841.52h0M1839.28 841.92h0M1828.1 842.24h0M1847.13 842.53h0M1843.63 843.43h0M1831.63 843.57h0M1829.38 844.39h0M1846.95 844.92h0M1838.63 844.94h0M1832.73 845.27h0M1841.06 845.62h0M1841.24 845.83h0M1829.3 846.14h0M1843.26 846.51h0M1837.89 847.41h0M1834.29 847.54h0M1847.18 848.14h0M1826.59 848.58h0M1842.16 848.65h0M1836.13 849.19h0M1833.29 849.64h0M1848.86 850.38h0M1841.04 850.62h0M1839.14 851.21h0M1829.1 851.67h0M1831.31 852.31h0M1853.47 852.07h0M1841.71 852.98h0M1823.47 852.67h0M1847.7 853.21h0M1827.06 853.37h0M1850.97 853.85h0M1838.85 853.93h0M1833.2 854.1h0M1848.2 854.04h0M1823.88 854.63h0M1842.37 854.99h0M1822.82 855.06h0M1826.47 855.37h0M1834.37 855.86h0M1838.83 855.63h0M1846.03 856.31h0M1852.51 856.24h0M1822.9 856.87h0M1841.44 856.8h0M1827.57 857.44h0M1846.32 857.33h0M1833.21 857.62h0M1837.11 857.82h0M1836.24 858.16h0M1836.52 858.19h0M1841.59 858.66h0M1837.99 858.54h0M1847.07 859.14h0M1827.66 859.2h0M1834.14 859.94h0M1838.1 860.25h0M1838.08 860.13h0M1826.69 860.98h0M1842.22 861.38h0M1848.17 861.33h0M1827.95 861.57h0M1834 861.77h0M1836.11 862.01h0M1841.21 862.2h0M1847.39 862.52h0M1847.92 862.87h0M1838.07 863.05h0M1833.47 863.48h0M1827.66 863.59h0M1841.72 864.04h0M1846.41 864.84h0M1846.53 864.5h0M1836.96 865.08h0M1841.06 865.99h0M1827.44 866.27h0M1833.49 866.73h0M1846.43 866.63h0M1836.13 867.18h0M1848.16 867.28h0M1843.13 867.76h0M1832.23 868.48h0M1827.29 868.57h0M1846.29 868.81h0M1842.2 869.47h0M1836.98 869.92h0M1841.29 870.03h0M1846.77 870.77h0M1829.45 871.2h0M1841.69 871.85h0M1837.47 872.29h0M1846.32 872.77h0M1833.57 873.32h0M1829.25 873.71h0M1838.13 874.08h0M1846.76 874.8h0M1843.96 875h0M1833.23 875.56h0M1837.46 876.45h0M1842.45 876.94h0M1838.55 877.22h0M1832.41 877.75h0M1833.92 878.12h0M1837.1 878.97h0M1844.1 879.23h0M1832.14 879.88h0M1832.79 880.48h0M1836.17 880.82h0M1841.5 881.11h0M1838.74 881.61h0M1821.73 882.12h0M1848.3 882.07h0M1851.43 882.98h0M1832 882.62h0M1828.17 883.2h0M1842.21 883.69h0M1847.98 883.86h0M1822.01 884.18h0M1836.56 884.34h0M1850.83 884.69h0M1828.49 885.03h0M1831.6 885.25h0M1843.17 885.62h0M1848.73 886.35h0M1822.35 886.46h0M1827.13 886.87h0M1837.25 887h0M1853.65 887.28h0M1831.99 887.12h0M1841.17 887.65h0M1832.39 887.86h0M1847.1 888.39h0M1829.26 888.69h0M1837.33 889.1h0M1841.03 889.96h0M1831.51 889.96h0M1848.63 890.44h0M1843.3 890.24h0M1827.05 890.59h0M1838.31 891.04h0M1843.55 891.08h0M1833.14 891.69h0M1847.38 892.14h0M1842.63 892.98h0M1826.71 893.11h0M1847.03 894h0M1837.45 893.81h0M1823.52 894.24h0M1833.4 894.34h0M1851.1 894.56h0M1823.36 894.53h0M1843.31 895.12h0M1828.13 895.38h0M1839.2 895.69h0M1831.58 895.68h0M1827.88 895.6h0M1821.83 896.5h0M1819.28 896.38h0M1847.36 896.58h0M1856.4 896.61h0M1852.81 897.12h0M1841.67 897.12h0M1826.52 897.74h0M1834.22 897.65h0M1819.31 898.24h0M1855.81 898.37h0M1848.62 898.84h0M1837.92 898.68h0M1821.91 898.66h0M1841.39 899.14h0M1852.58 899.25h0M1827.69 899.79h0M1833.12 899.83h0M1838.09 900.47h0M1831.41 900h0M1822.69 900.76h0M1846.16 900.88h0M1841.01 901.16h0M1851.63 901.36h0M1827.9 901.97h0M1831.59 901.76h0M1839.13 902.34h0M1836.21 902.24h0M1822.36 902.54h0M1841.64 902.53h0M1852.18 903.18h0M1847.83 903.14h0M1827.88 903.88h0M1833.82 903.89h0M1843.43 904.26h0M1822.77 904.35h0M1847.91 904.97h0M1853.35 905.18h0M1836.12 905.19h0M1826.92 905.95h0M1817.23 906.26h0M1821.93 906.12h0M1843.61 906.87h0M1834.05 906.59h0M1851.6 907h0M1836.97 907.3h0M1847.7 907.8h0M1826.47 907.67h0M1856.22 907.6h0M1816.85 908h0M1821.56 908.12h0M1841.21 908.89h0M1831.84 908.84h0M1818.23 908.56h0M1838.99 909.23h0M1851.83 909.47h0M1858.53 909.33h0M1826.46 909.51h0M1824.04 909.88h0M1848.94 909.61h0M1832.8 910.16h0M1817.37 910.43h0M1842.57 910.67h0M1839.2 910.69h0M1857.61 911.05h0M1856.21 911.02h0M1850.96 911.05h0M1824.6 911.74h0M1845.89 911.76h0M1834.32 912.05h0M1827.18 912.14h0M1817.05 912.14h0M1839.15 912.79h0M1842.52 912.75h0M1832.11 912.55h0M1853.21 913.35h0M1855.72 913.27h0M1841.06 913.37h0M1821.7 913.59h0M1848.46 913.77h0M1817.01 913.85h0M1826.49 914.24h0M1832.71 914.06h0M1837.16 914.31h0M1848.33 914.81h0M1857.5 914.99h0M1838.46 914.92h0M1822.52 915.46h0M1852 915.19h0M1832.29 915.95h0M1818.02 915.7h0M1827.93 916.1h0M1843.45 916.23h0M1823.8 916.19h0M1847.75 916.83h0M1839.19 916.9h0M1858.53 917.44h0M1851.45 917.39h0M1832.18 917.77h0M1818.87 917.62h0M1842.76 918.26h0M1838.86 918.82h0M1827.82 919.32h0M1832.19 919.94h0M1842.04 920.21h0M1846.51 920.48h0M1837.53 920.85h0M1828.48 921.12h0M1832.88 921.19h0M1847.64 921.81h0M1841.9 922.24h0M1837.05 922.82h0M1836.89 922.78h0M1828.22 923.29h0M1848.71 923.67h0M1853.1 924.07h0M1842.81 924.27h0M1823.7 924.56h0M1834.17 924.87h0M1827.25 925.3h0M1838.55 925.02h0M1847.82 925.64h0M1851.86 925.78h0M1841.93 926.09h0M1823.68 926.3h0M1829.01 926.1h0M1831.44 926.67h0M1826.92 926.71h0M1836.39 927h0M1847.11 927.01h0M1845.86 927.36h0M1851.47 927.66h0M1852.36 927.62h0M1823.4 928.05h0M1842.22 928.05h0M1832.27 928.67h0M1826.74 928.89h0M1839.21 929.28h0M1847.79 929.44h0M1843 929.86h0M1852 929.76h0M1823.75 929.93h0M1836.84 930.14h0M1823.28 930.06h0M1832.89 930.74h0M1829.16 930.94h0M1823.45 931.12h0M1846.52 931.23h0M1853.36 931.91h0M1843.39 931.94h0M1837.2 932.17h0M1837.08 932.1h0M1831.39 932.54h0M1828.46 932.8h0M1847.26 933.18h0M1824.6 933.48h0M1841.5 933.12h0M1846.71 933.52h0M1838.94 933.88h0M1853.61 934.02h0M1833.6 934.38h0M1826.49 934.57h0M1843.72 934.89h0M1834.03 934.69h0M1832.34 935.1h0M1832.58 935.04h0M1823.91 935.68h0M1837.04 935.68h0M1858.62 936.3h0M1819.22 936.18h0M1847.04 936.63h0M1841.81 936.6h0M1851.42 936.95h0M1828.6 937.45h0M1832.87 937.4h0M1837.28 937.96h0M1822.77 937.79h0M1818.69 938.28h0M1856.82 938.29h0M1842.18 938.96h0M1851.94 938.96h0M1848.43 938.84h0M1831.43 939.15h0M1828.62 939.12h0M1823.62 939.76h0M1837.24 939.81h0M1818.41 940.33h0M1856.98 940.06h0M1841.01 940.8h0M1848.85 940.7h0M1852.48 941.36h0M1829.56 941.45h0M1833.67 941.45h0M1839.26 941.65h0M1824.65 941.57h0M1841.19 942.11h0M1827.63 942.04h0M1847.56 942.98h0M1822.53 942.71h0M1838.74 943.04h0M1853.44 943.38h0M1833.59 943.66h0M1841.21 943.9h0M1827.75 944.26h0M1842.7 944.11h0M1824.55 944.69h0M1837.36 944.64h0M1851.41 945.19h0M1846.7 945.23h0M1842.96 945.94h0M1833.55 945.64h0M1828.08 946.27h0M1836.91 946.57h0M1822.31 946.53h0M1850.7 947.37h0M1847.12 947.18h0M1831.5 947.82h0M1842.95 947.78h0M1823.64 948.32h0M1826.47 948.29h0M1838.7 948.52h0M1824.41 948.84h0M1847.04 949.28h0M1836.27 949.01h0M1852.83 949.78h0M1841.89 949.71h0M1832.97 950.11h0M1827.27 950.36h0M1824.05 950.59h0M1837.55 950.78h0M1846.07 951.23h0M1843.04 951.29h0M1853.17 951.65h0M1852.93 951.58h0M1827.76 952.27h0M1834.09 952.15h0M1846.41 952.97h0M1838.94 952.64h0M1823.11 952.96h0M1842.13 953.13h0M1852.2 953.42h0M1837.81 953.59h0M1852.65 953.71h0M1858.12 954.05h0M1818.04 954.16h0M1824.66 954.68h0M1846.54 954.68h0M1828.93 955.09h0M1832.27 955.12h0M1851.7 955.84h0M1816.71 955.87h0M1837.14 955.69h0M1855.86 956.32h0M1844.02 956.31h0M1843.91 956.23h0M1823.16 956.71h0M1831.58 956.85h0M1848.13 957.11h0M1828.01 957.23h0M1837.52 957.33h0M1853.55 957.98h0M1817.56 957.82h0M1856.45 958.16h0M1842 958.07h0M1842.84 958.39h0M1823.61 958.78h0M1848.93 958.51h0M1852.93 958.54h0M1834.23 959.2h0M1826.6 959.3h0M1837.19 959.43h0M1819.53 959.52h0M1847.1 959.75h0M1857.82 959.9h0M1844.08 960.11h0M1828.72 960.14h0M1851.27 960.65h0M1822.54 960.79h0M1834.39 961.01h0M1838.31 961.45h0M1846.47 961.65h0M1841.5 962h0M1827.08 962.29h0M1832.6 962.12h0M1852.76 962.92h0M1821.56 962.76h0M1838.37 963.15h0M1833.35 963.16h0M1848.68 963.61h0M1834.35 963.56h0M1826.94 964.06h0M1842.63 964.2h0M1853.41 964.89h0M1837.47 964.98h0M1822.25 965.23h0M1846.17 965.39h0M1832.81 965.65h0M1826.84 965.75h0M1842.29 966.07h0M1846.02 966.42h0M1844.11 966.58h0M1837.75 967.14h0M1827.49 967.57h0M1831.96 967.75h0M1842.83 968.35h0M1838.07 968.86h0M1848.76 968.81h0M1841.42 969.12h0M1833.7 969.48h0M1828.73 969.55h0M1831.6 969.75h0M1831.55 970.14h0M1837.43 970.27h0M1846.39 970.85h0M1841.41 971.16h0M1828.32 971.86h0M1824.42 972.35h0M1856.36 972.48h0M1838.85 972.22h0M1852.12 972.8h0M1847.04 972.71h0M1832.27 973.02h0M1817.39 973.21h0M1827.64 973.68h0M1841.19 973.51h0M1824.34 973.85h0M1836.41 974.39h0M1843.12 974.07h0M1852.11 974.55h0M1834.13 974.92h0M1848.7 975.3h0M1817.15 975.48h0M1858.59 975.77h0M1826.73 975.52h0M1838.07 975.51h0M1844.07 976.28h0M1822.99 976.02h0M1851.25 976.74h0M1833.85 976.81h0M1836.83 977.37h0M1817.94 977.35h0M1847.98 977.57h0M1829.51 977.82h0M1842.34 978.42h0M1824.08 978.3h0M1832.75 978.75h0M1850.82 979.26h0M1847.97 979.94h0M1837.79 979.64h0M1823.81 980.18h0M1843.47 980.91h0M1828.98 980.67h0M1833.06 981.14h0M1839.08 981.6h0M1846.83 981.99h0M1851.36 982.21h0M1823.1 982.03h0M1829.19 982.85h0M1843.25 983.32h0M1836.97 983.37h0M1834.24 983.54h0M1845.82 983.97h0M1858.2 984.37h0M1821.66 984.32h0M1816.86 984.51h0M1827.71 984.6h0M1837.51 985.37h0M1843.65 985.28h0M1851.81 985.56h0M1847.3 985.8h0M1832.01 985.95h0M1824.27 986.05h0M1858.27 986.08h0M1828.27 986.75h0M1817.29 986.84h0M1848.26 986.54h0M1836.44 987.21h0M1853.21 987.4h0M1832.23 987.76h0M1824.6 987.86h0M1842.45 988.1h0M1856.49 988.24h0M1848.59 988.74h0M1826.48 988.71h0M1852.92 989.39h0M1819.35 989h0M1833.4 989.47h0M1824.64 989.74h0M1839.06 989.81h0M1841.05 989.87h0M1858.43 990.3h0M1856.2 990.4h0M1837.39 990.01h0M1847.71 990.89h0M1828.34 990.71h0M1819.46 991.07h0M1818.91 991.05h0M1852.68 991.2h0M1832.94 991.73h0M1841.78 991.61h0M1824.15 991.67h0M1856.42 992.38h0M1828.55 992.43h0M1837.95 992.31h0M1846.66 992.65h0M1818.08 992.82h0M1843.01 993.33h0M1850.68 993.33h0M1822.16 994h0M1832.49 993.98h0M1857.43 994.22h0M1837.95 994.27h0M1828.89 994.3h0M1819.45 994.95h0M1847.53 994.82h0M1851.1 995.07h0M1839.17 995.02h0M1842.8 995.65h0M1823.36 995.85h0M1858.61 995.53h0M1833.15 996.41h0M1826.99 996.18h0M1818.13 996.96h0M1848.53 996.71h0M1839.13 997.45h0M1856.12 997.35h0M1851.03 997.65h0M1842.3 997.62h0M1822.39 998.1h0M1826.89 998.47h0M1834.04 998.68h0M1816.92 998.84h0M1838.62 999.45h0M1846.11 999.11h0M1856.11 999.21h0M1852.02 999.81h0M1822.05 999.99h0M1842.42 999.8h0M1828.04 1000.18h0M1829.3 1000.22h0M1818.24 1000.65h0M1846.35 1000.87h0M1834 1000.86h0M1836.44 1001.26h0M1856.27 1001.32h0M1833.58 1001.01h0M1841.57 1001.5h0M1851.05 1001.67h0M1822.29 1001.51h0M1827.09 1002.34h0M1818.92 1002.22h0M1834.29 1002.49h0M1848.71 1002.76h0M1841.73 1002.66h0M1836.13 1003.07h0M1855.8 1003.17h0M1823.34 1003.3h0M1852.06 1003.85h0M1857.32 1003.55h0M1817.86 1004.01h0M1832.79 1004.19h0M1827.01 1004.3h0M1847.89 1004.62h0M1841.2 1004.73h0M1839 1004.92h0M1824.67 1005.06h0M1856.37 1005.33h0M1819.21 1005.39h0M1852.05 1005.84h0M1829.37 1005.58h0M1831.52 1005.53h0M1846.16 1006.1h0M1843.88 1006.49h0M1838.87 1006.62h0M1824.15 1006.82h0M1856.36 1007.27h0M1832.6 1007.47h0M1827.16 1007.92h0M1817.13 1007.55h0M1852.92 1007.89h0M1838.77 1008.45h0M1846.39 1008.15h0M1842.41 1008.99h0M1843.88 1008.5h0M1823.71 1009.13h0M1832.79 1009.23h0M1853.25 1009.86h0M1826.86 1009.86h0M1836.54 1010.44h0M1841.28 1010.3h0M1848.75 1010.77h0M1829.03 1010.65h0M1831.66 1011.05h0M1824.25 1011h0M1833.13 1011.53h0M1850.88 1011.66h0M1842.57 1012.03h0M1829.04 1012.47h0M1838.62 1012.5h0M1847.39 1012.9h0M1853.61 1013.44h0M1821.58 1013.02h0M1831.93 1013.81h0M1838.81 1013.56h0M1841.65 1014.13h0M1827.29 1014.37h0M1848.53 1014.66h0M1838.52 1014.65h0M1851.36 1015.19h0M1823.18 1015.41h0M1831.53 1015.74h0M1841.82 1015.89h0M1828.57 1016.19h0M1838.11 1016.38h0M1848.78 1016.68h0M1838.7 1016.84h0M1833.69 1017.47h0M1824.38 1017.33h0M1851.79 1017.93h0M1842.69 1018.16h0M1847.94 1018.49h0M1838 1018.84h0M1829.18 1018.78h0M1823.5 1019.12h0M1833.01 1019.56h0M1842.38 1019.97h0M1848.9 1020.4h0M1858.08 1020.07h0M1827.71 1020.51h0M1851.14 1020.65h0M1816.73 1021.01h0M1838.19 1021.36h0M1823.58 1021.34h0M1833.78 1022h0M1841.16 1021.81h0M1847.88 1021.75h0M1855.77 1022.36h0M1826.62 1022.48h0M1852.91 1022.61h0M1816.89 1022.57h0M1836.91 1023.19h0M1821.68 1023.31h0M1846.63 1023.51h0M1841.78 1023.59h0M1832.38 1024.25h0M1857.57 1024.17h0M1841.49 1024.01h0M1851.79 1024.58h0M1817.68 1024.81h0M1838.07 1024.97h0M1823.85 1025.49h0M1847.34 1025.33h0M1826.58 1025.33h0M1837.69 1025.56h0M1842.16 1025.82h0M1822.58 1025.73h0M1834.19 1026.2h0M1847.44 1026.06h0M1836.18 1026.99h0M1847.54 1026.51h0M1829.07 1027.5h0M1843.45 1027.6h0M1834.16 1028.45h0M1847.38 1028.95h0M1837.14 1028.73h0M1826.94 1029.26h0M1843.63 1029.93h0M1833.3 1030.19h0M1847.24 1030.74h0M1838.1 1030.89h0M1828.09 1031.13h0M1831.82 1031.96h0M1843.37 1031.53h0M1822.16 1032.35h0M1852.83 1032.09h0M1838.81 1032.65h0M1846.75 1032.88h0M1844.12 1033.28h0M1828.99 1033.43h0M1833.51 1033.83h0M1853.19 1033.9h0M1823.77 1034.32h0M1834.11 1034.2h0M1836.92 1034.85h0M1847.43 1035.33h0M1827.6 1035.49h0M1841.73 1035.79h0M1851.49 1035.73h0M1831.53 1036.39h0M1821.92 1036.35h0M1836.88 1036.91h0M1847.21 1036.92h0M1828.23 1037.29h0M1843.93 1037.89h0M1831.94 1038.32h0M1839.05 1038.83h0M1827.29 1039.2h0M1848.04 1039.67h0M1832.16 1040.12h0M1837.04 1040.89h0M1843.85 1041.24h0M1847.92 1041.65h0M1826.83 1042.24h0M1832.88 1042.7h0M1837.88 1043.09h0M1846.37 1043.47h0M1841.14 1043.62h0M1828.24 1044.09h0M1834.23 1044.72h0M1836.13 1044.92h0M1845.95 1045.43h0M1846.94 1045.23h0M1843.34 1045.69h0M1831.76 1046.42h0M1836.7 1046.71h0M1827.08 1047.07h0M1847.33 1047.28h0M1841.21 1047.89h0M1831.8 1048.29h0M1851.97 1048.65h0M1827.25 1048.88h0M1848.95 1049.02h0M1821.85 1049.35h0M1842.99 1049.7h0M1837.27 1049.99h0M1819.69 1050.07h0M1831.74 1050.06h0M1847.33 1050.78h0M1857.2 1050.96h0M1826.63 1050.64h0M1821.58 1051.14h0M1853.46 1051.36h0M1817.19 1051.95h0M1838.37 1051.98h0M1841.52 1051.78h0M1832.02 1052.03h0M1828.03 1052.37h0M1822.8 1052.45h0M1856.58 1052.89h0M1846.85 1052.78h0M1853.22 1053.26h0M1842.55 1053.24h0M1834.17 1053.73h0M1837.8 1053.8h0M1824.28 1054.27h0M1846.31 1054.5h0M1827.22 1054.9h0M1822.14 1054.76h0M1840.99 1055.05h0M1851.26 1055.49h0M1836.61 1055.82h0M1834.08 1055.64h0M1846.82 1056.38h0M1828.41 1056.68h0M1841.18 1057.03h0M1827.78 1057.23h0M1839.27 1057.95h0M1834.14 1058.18h0M1843.59 1058.77h0M1827.75 1059.44h0M1838.52 1059.98h0M1846.33 1060.06h0M1841.05 1060.69h0M1832.31 1061.5h0M1826.69 1061.65h0M1848.47 1062.41h0M1838.04 1062.1h0M1842.8 1062.56h0M1833.96 1062.51h0M1841.15 1063.07h0M1828.85 1063.5h0M1843.37 1063.57h0M1838.16 1064.19h0M1846.05 1064.58h0M1833.56 1065.22h0M1844.12 1065.02h0M1827.27 1065.68h0M1837.3 1066.06h0M1846.06 1066.69h0M1841.26 1067.29h0M1828.78 1067.74h0M1838.99 1067.93h0M1832.11 1068.26h0M1838.16 1068.24h0M1847.84 1068.67h0M1838.23 1068.93h0M1841.42 1069.22h0M1843.61 1069.33h0M1827.9 1069.7h0M1846.66 1070.43h0M1833.4 1070.65h0M1829.59 1071.45h0M1844.01 1071.83h0M1838.25 1071.72h0M1833.55 1072.44h0M1848.72 1072.91h0M1826.5 1073.31h0M1836.66 1073.53h0M1842.86 1073.72h0M1832.39 1074.21h0M1842.32 1074.63h0M1836.44 1075.8h0M1833.43 1076.07h0M1843.14 1076.77h0M1837.44 1078.28h0M1832.34 1078.94h0M1840.96 1079.17h0M1832.5 1079.68h0M1836.95 1080.34h0M1841.77 1081.23h0M1833.86 1081.69h0M1836.42 1082.22h0M1832.19 1082.87h0M1843.89 1083.16h0M1833.72 1083.51h0M1837.56 1084.37h0M1843.3 1084.97h0M1832.17 1085.41h0M1838 1086.42h0M1842.21 1087h0M1832.45 1088.01h0M1838.28 1088.84h0M1842.07 1089.11h0M1831.41 1089.52h0M1837.68 1090.49h0M1833.23 1090.63h0M1841.92 1091.61h0M1836.56 1092.29h0M1833.11 1092.91h0M1842.58 1094.39h0M1837.21 1095.25h0M1832.29 1095.97h0M1843.11 1096.4h0M1838.41 1097.3h0M1844.12 1098.17h0M1833 1098.93h0M1837.12 1099.31h0M1841.94 1099.95h0M1842.81 1100.09h0M1831.61 1100.77h0M1836.29 1101.34h0M1842.05 1101.91h0M1831.55 1102.91h0M1837.03 1103.06h0M1841.83 1104.29h0M1832.5 1105.36h0M1837.77 1105.63h0M1843.62 1107.48h0M1837.47 1109.14h0M1843.4 1110.05h0M1832.74 1110.95h0M1843.12 1111.82h0M1838.08 1112.38h0M1842.85 1112.64h0M1833.76 1113.06h0M1839.24 1113.79h0M1842.94 1114.52h0M1831.72 1115.28h0M1838.88 1115.75h0M1842.38 1116.5h0M1838.28 1116.81h0M1833.21 1118h0M1842.8 1118.76h0M1832.41 1120.11h0M1833.13 1122.58h0M1842.33 1123.58h0M1833.85 1125.01h0M1842.61 1127.44h0M1834.33 1127.82h0M1838.11 1128.36h0M1832.53 1129.76h0M1843.22 1130.39h0M1832.74 1137.86h0M1841.36 1138.03h0M1834.22 1141h0M1843.4 1143.98h0M1832.4 1144.29h0M1842.41 1147.19h0M1831.26 1150.49h0" fill="none" stroke="#000" stroke-width="3.68" stroke-linecap="round"/>
<path d="M1914 756V872.1M1914 963.9V1145.3M1901.25 756H1926.75M1901.25 1145.3H1926.75" fill="none" stroke="#000" stroke-width="4.5" stroke-linecap="round"/>
<rect x="1889.4" y="872.1" width="49.5" height="91.8" fill="#c4c4c4" stroke="#000" stroke-width="4.2"/>
<line x1="1889.4" y1="916" x2="1938.9" y2="916" stroke="#000" stroke-width="4.2"/>
<path d="M1909.15 800.85h0M1918.85 805.54h0M1914 810.2h0M1918.85 812.19h0M1909.15 813.49h0M1914 813.77h0M1914 814.01h0M1918.85 814.8h0M1909.15 817.84h0M1918.85 818.35h0M1914 819.23h0M1914 820.03h0M1914 820.65h0M1918.85 822.66h0M1914 825.85h0M1909.15 826.57h0M1918.85 831.13h0M1914 831.76h0M1909.15 832.37h0M1904.3 833.02h0M1923.7 833.57h0M1918.85 834.93h0M1909.15 835.49h0M1914 836.6h0M1914 837.69h0M1909.15 839.48h0M1918.85 839.87h0M1904.3 840.07h0M1923.7 841.19h0M1914 841.67h0M1909.15 842.97h0M1923.7 844.8h0M1909.15 850.27h0M1923.7 851.68h0M1914 852.93h0M1904.3 854.28h0M1914 855.94h0M1918.85 856.83h0M1899.45 857.18h0M1909.15 857.9h0M1923.7 858.03h0M1904.3 858.73h0M1928.55 859.96h0M1918.85 860.12h0M1914 860.84h0M1923.7 861.73h0M1909.15 862.01h0M1928.55 862.97h0M1899.45 863.05h0M1914 864.26h0M1918.85 865.43h0M1923.7 865.79h0M1904.3 866.39h0M1909.15 867.12h0M1914 867.68h0M1918.85 868.18h0M1899.45 869.43h0M1928.55 869.96h0M1909.15 870.31h0M1923.7 870.59h0M1904.3 871.13h0M1899.45 872.89h0M1914 873.46h0M1923.7 873.75h0M1918.85 874.4h0M1904.3 874.75h0M1909.15 875.29h0M1928.55 875.9h0M1914 876.62h0M1918.85 877.52h0M1904.3 878.8h0M1899.45 879.44h0M1923.7 879.91h0M1928.55 880.37h0M1914 881.13h0M1909.15 881.88h0M1904.3 882.49h0M1918.85 882.84h0M1923.7 883.28h0M1928.55 883.76h0M1914 884.5h0M1909.15 885.28h0M1899.45 885.9h0M1904.3 886.82h0M1918.85 893.5h0M1928.55 895.43h0M1923.7 895.88h0M1904.3 896.3h0M1918.85 896.98h0M1914 897.03h0M1909.15 897.6h0M1899.45 898.12h0M1928.55 899.24h0M1923.7 899.68h0M1914 900.33h0M1904.3 900.7h0M1899.45 901.89h0M1918.85 902.4h0M1928.55 903.26h0M1909.15 903.81h0M1923.7 904.81h0M1918.85 905.67h0M1909.15 908.48h0M1904.3 910.54h0M1918.85 912.18h0M1928.55 913.01h0M1914 914.5h0M1923.7 915.47h0M1904.3 916.4h0M1909.15 916.92h0M1918.85 917.49h0M1923.7 918.95h0M1904.3 919.74h0M1909.15 920.13h0M1918.85 920.75h0M1914 921.38h0M1918.85 924.02h0M1923.7 925.09h0M1909.15 925.83h0M1914 926.5h0M1899.45 926.95h0M1904.3 927.58h0M1923.7 928.85h0M1928.55 929.93h0M1909.15 930.24h0M1914 931.15h0M1923.7 932.35h0M1904.3 932.95h0M1918.85 933.22h0M1909.15 933.98h0M1914 934.35h0M1923.7 935.62h0M1928.55 937.45h0M1904.3 937.59h0M1914 938.16h0M1918.85 938.77h0M1899.45 939.07h0M1909.15 940.35h0M1923.7 940.9h0M1928.55 941.43h0M1904.3 942.91h0M1918.85 943.17h0M1899.45 943.55h0M1914 945.86h0M1923.7 946.44h0M1928.55 946.91h0M1899.45 947.09h0M1904.3 947.64h0M1918.85 948.16h0M1909.15 948.77h0M1914 949.11h0M1928.55 950.19h0M1899.45 950.92h0M1904.3 951.06h0M1909.15 952.44h0M1923.7 952.92h0M1928.55 953.93h0M1918.85 955.87h0M1904.3 956.85h0M1923.7 957.95h0M1914 958.4h0M1909.15 958.78h0M1918.85 959.48h0M1904.3 959.54h0M1899.45 960.09h0M1928.55 960.71h0M1923.7 961.11h0M1918.85 963.76h0M1928.55 964.23h0M1923.7 964.91h0M1899.45 965.87h0M1909.15 967.88h0M1914 969.4h0M1918.85 975.17h0M1914 975.78h0M1909.15 978.79h0M1918.85 980.76h0M1914 981.66h0M1923.7 982.82h0M1909.15 983.29h0M1923.7 986.47h0M1914 986.98h0M1909.15 987.58h0M1918.85 988.09h0M1904.3 988.61h0M1909.15 990.71h0M1923.7 991.8h0M1899.45 992.34h0M1928.55 992.82h0M1918.85 993.14h0M1909.15 993.99h0M1914 995.41h0M1899.45 995.97h0M1923.7 996.08h0M1918.85 998.08h0M1914 999h0M1918.85 1001.19h0M1909.15 1001.71h0M1914 1003.28h0M1914 1003.73h0M1918.85 1004.45h0M1909.15 1006.82h0M1914 1015.19h0M1909.15 1017.21h0M1914 1018.36h0M1918.85 1018.54h0M1918.85 1028.91h0M1909.15 1029.37h0M1918.85 1032.31h0M1909.15 1037.46h0M1914 1042.56h0M1918.85 1045.21h0M1914 1047.84h0M1909.15 1058.75h0M1914 1061.92h0M1918.85 1063.83h0M1918.85 1066.93h0M1909.15 1067.19h0M1914 1069.77h0M1918.85 1071.24h0" fill="none" stroke="#000" stroke-width="3.91" stroke-linecap="round"/>
<line x1="1482.2" y1="714.3" x2="1482.2" y2="1199.2" stroke="#000" stroke-width="3.6"/>
<line x1="1469.7" y1="1197.4" x2="1965" y2="1197.4" stroke="#000" stroke-width="3.6"/>
<line x1="1469.7" y1="783.8" x2="1482.2" y2="783.8" stroke="#000" stroke-width="3.3"/>
<line x1="1469.7" y1="921" x2="1482.2" y2="921" stroke="#000" stroke-width="3.3"/>
<line x1="1469.7" y1="1059" x2="1482.2" y2="1059" stroke="#000" stroke-width="3.3"/>
<line x1="1419.9" y1="801.7" x2="1485.5" y2="801.7" stroke="#9c1c63" stroke-width="4.9"/>
<circle cx="1419.9" cy="801.7" r="9.9" fill="#9c1c63"/>
<line x1="1409.8" y1="899.6" x2="1485.5" y2="899.6" stroke="#9c1c63" stroke-width="4.9"/>
<circle cx="1409.8" cy="899.6" r="9.9" fill="#9c1c63"/>
<line x1="1409.8" y1="1005.7" x2="1485.5" y2="1005.7" stroke="#9c1c63" stroke-width="4.9"/>
<circle cx="1409.8" cy="1005.7" r="9.9" fill="#9c1c63"/>
<line x1="1417.3" y1="1092" x2="1485.5" y2="1092" stroke="#9c1c63" stroke-width="4.9"/>
<circle cx="1417.3" cy="1092" r="9.9" fill="#9c1c63"/>
<rect x="1471" y="1203.3" width="179" height="127.4" fill="#e2e2e2"/>
<rect x="1652.7" y="1203.3" width="147.3" height="127.4" fill="#d0e5f2"/>
<rect x="1803" y="1203.3" width="154.7" height="127.4" fill="#fcd6d1"/>
<rect x="1477.3" y="1338" width="484.4" height="6" fill="#e0e0e0"/>
<line x1="1532.7" y1="1197.4" x2="1532.7" y2="1209.8" stroke="#000" stroke-width="3.6"/>
<line x1="1609" y1="1197.4" x2="1609" y2="1209.8" stroke="#000" stroke-width="3.6"/>
<line x1="1685.3" y1="1197.4" x2="1685.3" y2="1209.8" stroke="#000" stroke-width="3.6"/>
<line x1="1761.7" y1="1197.4" x2="1761.7" y2="1209.8" stroke="#000" stroke-width="3.6"/>
<line x1="1837.7" y1="1197.4" x2="1837.7" y2="1209.8" stroke="#000" stroke-width="3.6"/>
<line x1="1914" y1="1197.4" x2="1914" y2="1209.8" stroke="#000" stroke-width="3.6"/>
<text x="1459.5" y="791.4" font-size="29" text-anchor="end">2</text>
<text x="1459.5" y="928.7" font-size="29" text-anchor="end">0</text>
<text x="1459.5" y="1066.7" font-size="29" text-anchor="end">–2</text>
<text font-size="29" text-anchor="middle" transform="translate(1352.7 937.5) rotate(-90)">Cell circularity (<tspan font-style="italic">z</tspan>-score)</text>
<line x1="1825.5" y1="748.9" x2="1915.9" y2="748.9" stroke="#000" stroke-width="3.8"/>
<text x="1818" y="735.8" font-size="24.7"><tspan font-style="italic">P</tspan> = 0.008</text>
<text x="1465" y="1237.3" font-size="29" text-anchor="end">EGFRi</text>
<text x="1532.7" y="1237.9" font-size="29" text-anchor="middle">–</text>
<text x="1609" y="1239.8" font-size="29" text-anchor="middle">+</text>
<text x="1685.3" y="1237.9" font-size="29" text-anchor="middle">–</text>
<text x="1761.7" y="1239.8" font-size="29" text-anchor="middle">+</text>
<text x="1837.7" y="1237.9" font-size="29" text-anchor="middle">–</text>
<text x="1914" y="1239.8" font-size="29" text-anchor="middle">+</text>
<text x="1565.5" y="1281.7" font-size="29" text-anchor="middle">Monoculture</text>
<text x="1727.3" y="1281.7" font-size="29" text-anchor="middle">M<tspan class="sy">Φ</tspan></text>
<text x="1885" y="1281.7" font-size="29" text-anchor="middle">IL4-M<tspan class="sy">Φ</tspan></text>
<text x="1695.8" y="1374.7" font-size="29" text-anchor="middle">Co-culture condition</text>
</g>
<g id="pe">
<rect x="592.8" y="789.4" width="664.2" height="507" fill="none" stroke="#000" stroke-width="1.4"/>
<line x1="637.1" y1="1296.4" x2="637.1" y2="1301.4" stroke="#000" stroke-width="1.3"/>
<text x="637.1" y="1338" font-size="28.5" text-anchor="middle">–0.8</text>
<line x1="726" y1="1296.4" x2="726" y2="1301.4" stroke="#000" stroke-width="1.3"/>
<text x="726" y="1338" font-size="28.5" text-anchor="middle">–0.6</text>
<line x1="815.4" y1="1296.4" x2="815.4" y2="1301.4" stroke="#000" stroke-width="1.3"/>
<text x="815.4" y="1338" font-size="28.5" text-anchor="middle">–0.4</text>
<line x1="903.5" y1="1296.4" x2="903.5" y2="1301.4" stroke="#000" stroke-width="1.3"/>
<text x="903.5" y="1338" font-size="28.5" text-anchor="middle">–0.2</text>
<line x1="992" y1="1296.4" x2="992" y2="1301.4" stroke="#000" stroke-width="1.3"/>
<text x="992" y="1338" font-size="28.5" text-anchor="middle">0.0</text>
<line x1="1080.5" y1="1296.4" x2="1080.5" y2="1301.4" stroke="#000" stroke-width="1.3"/>
<text x="1080.5" y="1338" font-size="28.5" text-anchor="middle">0.0</text>
<line x1="1169" y1="1296.4" x2="1169" y2="1301.4" stroke="#000" stroke-width="1.3"/>
<text x="1169" y="1338" font-size="28.5" text-anchor="middle">0.2</text>
<line x1="1257" y1="1296.4" x2="1257" y2="1301.4" stroke="#000" stroke-width="1.3"/>
<text x="1257" y="1338" font-size="28.5" text-anchor="middle">0.4</text>
<line x1="587.8" y1="872.9" x2="592.8" y2="872.9" stroke="#000" stroke-width="1.3"/>
<text x="575.5" y="883.4" font-size="28.5" text-anchor="end">0.6</text>
<line x1="587.8" y1="957.3" x2="592.8" y2="957.3" stroke="#000" stroke-width="1.3"/>
<text x="575.5" y="967.8" font-size="28.5" text-anchor="end">0.4</text>
<line x1="587.8" y1="1041.8" x2="592.8" y2="1041.8" stroke="#000" stroke-width="1.3"/>
<text x="575.5" y="1052.3" font-size="28.5" text-anchor="end">0.2</text>
<line x1="587.8" y1="1126.7" x2="592.8" y2="1126.7" stroke="#000" stroke-width="1.3"/>
<text x="575.5" y="1137.2" font-size="28.5" text-anchor="end">0.0</text>
<line x1="587.8" y1="1211.5" x2="592.8" y2="1211.5" stroke="#000" stroke-width="1.3"/>
<text x="575.5" y="1222" font-size="28.5" text-anchor="end">–0.2</text>
<line x1="587.8" y1="1296.4" x2="592.8" y2="1296.4" stroke="#000" stroke-width="1.3"/>
<text x="575.5" y="1306.9" font-size="28.5" text-anchor="end">–0.4</text>
<text x="925.6" y="1379" font-size="29.3" text-anchor="middle">PC1 (55% Var explained)</text>
<text font-size="29" text-anchor="middle" transform="translate(492.6 1042.7) rotate(-90)">PC2 (23% Var explained)</text>
<rect x="1039" y="812.4" width="12.6" height="12.6" fill="#000"/>
<rect x="1147.8" y="899.1" width="12.6" height="12.6" fill="#000"/>
<rect x="800.1" y="1007.9" width="12.6" height="12.6" fill="#000"/>
<rect x="781.1" y="1044.9" width="12.6" height="12.6" fill="#000"/>
<rect x="768" y="1070.7" width="12.6" height="12.6" fill="#000"/>
<rect x="800.1" y="1149.3" width="12.6" height="12.6" fill="#000"/>
<rect x="1083.2" y="1238.7" width="12.6" height="12.6" fill="#000"/>
<text x="1046.2" y="842.2" font-size="22.3" text-anchor="middle">Area</text>
<text x="1109" y="895.5" font-size="22.3">Perimeter</text>
<text x="792" y="1020.8" font-size="22.3" text-anchor="end">Extent</text>
<text x="779" y="1046.6" font-size="22.3" text-anchor="end">Solidity</text>
<text x="767.6" y="1073.7" font-size="22.3" text-anchor="end">Circularity</text>
<text x="741.3" y="1142.8" font-size="22.3">Convexity</text>
<text x="1039.5" y="1230.2" font-size="22.3">Eccentricity</text>
<line x1="843.9" y1="950.6" x2="962.2" y2="950.6" stroke="#888" stroke-width="2.9"/>
<line x1="903.5" y1="914.4" x2="903.5" y2="984.9" stroke="#888" stroke-width="2.9"/>
<line x1="837.1" y1="1071.4" x2="936.4" y2="1071.4" stroke="#888" stroke-width="2.9"/>
<line x1="886.3" y1="1040" x2="886.3" y2="1105.4" stroke="#888" stroke-width="2.9"/>
<line x1="880.9" y1="1136.5" x2="982.5" y2="1136.5" stroke="#888" stroke-width="2.9"/>
<line x1="931.5" y1="1102.3" x2="931.5" y2="1168.7" stroke="#888" stroke-width="2.9"/>
<line x1="1160.9" y1="1173.8" x2="1237.6" y2="1173.8" stroke="#888" stroke-width="2.9"/>
<line x1="1197.6" y1="1152" x2="1197.6" y2="1197.1" stroke="#888" stroke-width="2.9"/>
<line x1="730.5" y1="1175.1" x2="862" y2="1175.1" stroke="#888" stroke-width="2.9"/>
<line x1="796.2" y1="1141.6" x2="796.2" y2="1213.8" stroke="#888" stroke-width="2.9"/>
<line x1="786.1" y1="1193.7" x2="929.7" y2="1193.7" stroke="#888" stroke-width="2.9"/>
<line x1="856.6" y1="1145.2" x2="856.6" y2="1244.5" stroke="#888" stroke-width="2.9"/>
<circle cx="903.5" cy="950.6" r="9.2" fill="#636363"/>
<circle cx="886.3" cy="1069.8" r="9.2" fill="#fb9a94"/>
<circle cx="931.5" cy="1135.7" r="9.2" fill="#969696"/>
<circle cx="1198.4" cy="1171.8" r="9.2" fill="#f8634b"/>
<circle cx="797.4" cy="1171.8" r="9.2" fill="#0d74b8"/>
<circle cx="857.4" cy="1195.7" r="9.2" fill="#5fc4f7"/>
<text x="823.6" y="910.9" font-size="29" fill="#6b6b6b">Monoculture</text>
<text x="814.1" y="1038.2" font-size="29" fill="#fb9a94">IL4-M<tspan class="sy">Φ</tspan>+EGFRi</text>
<text x="905.7" y="1099.7" font-size="29" fill="#9a9a9a">Monoculture</text>
<text x="932.8" y="1126" font-size="29" fill="#9a9a9a">+EGFRi</text>
<text x="1149.6" y="1147" font-size="29" fill="#f03b20">IL4-M<tspan class="sy">Φ</tspan></text>
<text x="630.3" y="1210.2" font-size="29" fill="#0d74b8">M<tspan class="sy">Φ</tspan>+EGFRi</text>
<text x="860.6" y="1229.6" font-size="29" fill="#5fc4f7">M<tspan class="sy">Φ</tspan></text>
</g>
</svg></body></html>
